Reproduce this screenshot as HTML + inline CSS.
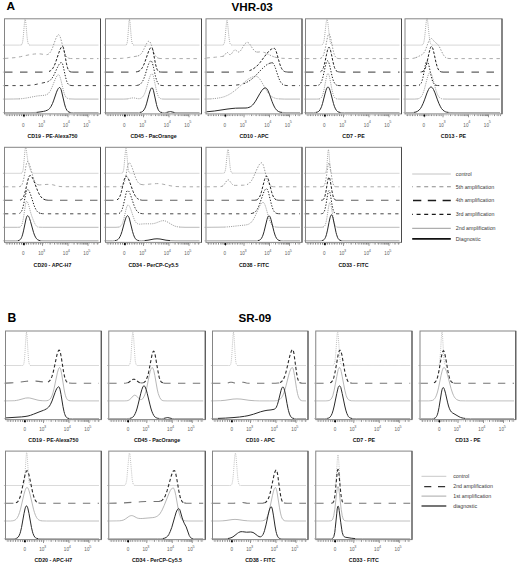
<!DOCTYPE html>
<html><head><meta charset="utf-8"><title>Figure</title>
<style>
html,body{margin:0;padding:0;background:#fff;}
body{width:520px;height:565px;overflow:hidden;font-family:"Liberation Sans",sans-serif;}
svg{display:block;}
text{font-family:"Liberation Sans",sans-serif;}
</style></head>
<body>
<svg width="520" height="565" viewBox="0 0 520 565" font-family="Liberation Sans, sans-serif">
<path d="M5.0,45.1 19.5,45.1 21.0,45.0M30.0,45.10H98.5" fill="none" stroke="#cdcdcd" stroke-width="0.8"/>
<path d="M21.0,45.0 21.5,44.8 22.0,44.2 22.5,42.6 23.0,39.5 23.5,34.4 24.5,22.2 25.0,19.2 25.5,20.3 26.0,24.6 27.0,36.2 27.5,40.4 28.0,42.9 28.5,44.2 29.0,44.8 29.5,45.0 30.0,45.1" fill="none" stroke="#9a9a9a" stroke-width="0.85" stroke-dasharray="1 1.1"/>
<path d="M5.0,58.4 11.0,58.0 16.0,57.5 20.5,56.7 30.0,54.6 34.5,54.0 37.0,53.8 39.0,53.8 41.0,54.0 45.5,54.7 46.5,54.7 47.5,54.5M69.0,58.3 70.5,58.5 73.0,58.6 98.5,58.6" fill="none" stroke="#a2a2a2" stroke-width="0.9" stroke-dasharray="3.4 3.6"/>
<path d="M47.5,54.5 48.5,54.0 49.5,53.2 50.5,52.0 51.0,51.1 52.5,47.9 55.5,39.5 56.5,37.1 57.5,35.4 58.0,34.9 58.5,34.7 59.0,34.9 59.5,35.4 60.0,36.4 60.5,37.8 61.5,41.4 63.5,49.3 64.5,52.6 65.0,53.9 66.0,55.9 67.0,57.1 68.0,57.9 69.0,58.3" fill="none" stroke="#8a8a8a" stroke-width="0.9" stroke-dasharray="1.4 1.5"/>
<path d="M5.0,72.1 43.5,72.1 47.0,71.9 49.0,71.5M71.0,72.0 73.5,72.1 98.5,72.1" fill="none" stroke="#606060" stroke-width="1.1" stroke-dasharray="7.5 7.5"/>
<path d="M49.0,71.5 50.5,70.7 51.5,69.9 52.5,68.8 53.5,67.2 54.5,65.2 55.5,62.7 59.0,52.3 60.0,49.6 61.0,47.7 61.5,47.0 62.0,46.6 62.5,46.4 63.0,46.7 63.5,47.9 64.0,49.9 66.5,63.8 67.5,67.7 68.0,69.1 68.5,70.1 69.0,70.9 69.5,71.3 70.0,71.7 71.0,72.0" fill="none" stroke="#222" stroke-width="1" stroke-dasharray="2.6 1.6"/>
<path d="M5.0,85.6 23.5,85.6 27.5,85.4 30.5,85.2 33.0,85.0 36.0,84.4 45.5,82.3 47.5,81.8M70.5,85.4 72.0,85.6 74.0,85.6 98.5,85.6" fill="none" stroke="#484848" stroke-width="1" stroke-dasharray="3.3 4.1"/>
<path d="M47.5,81.8 49.0,81.1 50.0,80.4 51.0,79.4 52.0,78.2 53.0,76.7 54.0,74.9 57.5,67.3 59.0,64.5 60.0,63.2 60.5,62.8 61.0,62.6 61.5,62.5 62.0,62.8 62.5,63.8 63.0,65.3 65.5,76.9 66.5,80.6 67.0,82.0 67.5,83.0 68.0,83.9 68.5,84.4 69.5,85.1 70.5,85.4" fill="none" stroke="#1a1a1a" stroke-width="1" stroke-dasharray="1.3 1.6"/>
<path d="M5.0,99.1 13.5,99.0 19.0,98.9M69.5,98.9 75.0,99.1 98.5,99.1" fill="none" stroke="#a8a8a8" stroke-width="0.8"/>
<path d="M19.0,98.9 22.5,98.6 26.0,98.1 37.5,95.9 44.5,95.3 46.0,94.9 47.0,94.5 48.0,93.8 49.0,92.8 50.5,90.5 52.0,87.4 55.0,79.7 56.0,77.5 57.0,75.8 57.5,75.2 58.0,74.9 58.5,74.7 59.0,74.9 59.5,75.6 60.0,76.8 61.0,80.4 63.5,91.1 64.5,94.3 65.0,95.5 66.0,97.2 67.0,98.1 68.0,98.6 69.5,98.9" fill="none" stroke="#8a8a8a" stroke-width="0.85" stroke-dasharray="1.1 1.1"/>
<path d="M5.0,112.6 30.0,112.6 36.5,112.4M70.5,112.5 73.5,112.6 98.5,112.6" fill="none" stroke="#9a9a9a" stroke-width="0.9"/>
<path d="M36.5,112.4 41.0,111.8 43.5,111.4 45.5,110.9 47.5,110.1 48.5,109.5 49.5,108.6 50.5,107.3 51.0,106.5 52.5,103.5 53.5,100.9 56.5,92.2 57.5,89.8 58.5,88.2 59.0,87.7 59.5,87.5 60.0,87.6 60.5,88.3 61.0,89.4 61.5,91.0 64.5,103.9 65.5,107.3 66.0,108.6 67.0,110.4 68.0,111.5 69.0,112.1 70.5,112.5" fill="none" stroke="#2a2a2a" stroke-width="1"/>
<rect x="4.50" y="18.80" width="96.00" height="95.10" fill="none" stroke="#858585" stroke-width="1"/>
<path d="M100.50,18.80V113.90" stroke="#4a4a4a" stroke-width="1"/>
<path d="M2.90,45.10h1.6 M2.90,58.60h1.6 M2.90,72.10h1.6 M2.90,85.60h1.6 M2.90,99.10h1.6 M2.90,112.60h1.6" stroke="#999" stroke-width="0.6"/>
<path d="M5.50,115.20H99.50" stroke="#a0a0a0" stroke-width="0.7" stroke-dasharray="1 1.2"/>
<path d="M7.00,114.50v1.6 M9.50,114.50v1.6 M12.00,114.50v1.6 M14.50,114.50v1.6 M17.00,114.50v1.6 M19.50,114.50v1.6 M21.50,114.50v1.6 M26.50,114.50v1.6 M28.50,114.50v1.6 M31.00,114.50v1.6 M33.50,114.50v1.6 M36.00,114.50v1.6 M38.50,114.50v1.6 M40.50,114.50v1.6 M50.18,114.50v1.6 M74.02,114.50v1.6 M54.67,114.50v1.6 M77.54,114.50v1.6 M57.85,114.50v1.6 M80.04,114.50v1.6 M60.32,114.50v1.6 M81.98,114.50v1.6 M62.34,114.50v1.6 M83.56,114.50v1.6 M64.05,114.50v1.6 M84.90,114.50v1.6 M65.53,114.50v1.6 M86.06,114.50v1.6 M66.83,114.50v1.6 M87.08,114.50v1.6 M94.02,114.50v1.6 M97.54,114.50v1.6 M24.00,114.50v2.8 M42.50,114.50v2.8 M68.00,114.50v2.8 M88.00,114.50v2.8" stroke="#5a5a5a" stroke-width="0.65" fill="none"/>
<rect x="22.90" y="114.60" width="1.9" height="1.8" fill="#000"/>
<text x="23.30" y="127.10" font-size="4.6" font-weight="normal" fill="#606060" text-anchor="middle" >0</text>
<text x="40.70" y="127.10" font-size="4.6" font-weight="normal" fill="#606060" text-anchor="middle" >10</text>
<text x="43.00" y="123.00" font-size="3.8" font-weight="normal" fill="#606060" text-anchor="start" >3</text>
<text x="65.40" y="127.10" font-size="4.6" font-weight="normal" fill="#606060" text-anchor="middle" >10</text>
<text x="67.70" y="123.00" font-size="3.8" font-weight="normal" fill="#606060" text-anchor="start" >4</text>
<text x="85.90" y="127.10" font-size="4.6" font-weight="normal" fill="#606060" text-anchor="middle" >10</text>
<text x="88.20" y="123.00" font-size="3.8" font-weight="normal" fill="#606060" text-anchor="start" >5</text>
<text x="52.50" y="137.80" font-size="5.3" font-weight="bold" fill="#111" text-anchor="middle" >CD19 - PE-Alexa750</text>
<path d="M106.0,45.1 125.0,45.1 126.0,45.0M134.0,45.10H199.5" fill="none" stroke="#cdcdcd" stroke-width="0.8"/>
<path d="M126.0,45.0 126.5,44.7 127.0,43.6 127.5,40.8 128.0,35.3 129.0,21.1 129.5,19.2 130.0,22.2 131.0,34.4 131.5,39.5 132.0,42.6 132.5,44.2 133.0,44.8 133.5,45.0 134.0,45.1" fill="none" stroke="#9a9a9a" stroke-width="0.85" stroke-dasharray="1 1.1"/>
<path d="M106.0,58.6 116.5,58.5 122.5,58.3 127.5,57.7 136.0,56.3 138.0,55.9M158.5,58.2 160.0,58.5 163.0,58.6 199.5,58.6" fill="none" stroke="#a2a2a2" stroke-width="0.9" stroke-dasharray="3.4 3.6"/>
<path d="M138.0,55.9 139.0,55.5 140.0,54.9 141.0,54.0 141.5,53.4 143.0,51.0 146.0,44.7 147.0,42.9 148.0,41.6 148.5,41.3 149.0,41.2 149.5,41.4 150.0,42.0 150.5,42.9 151.5,45.4 153.5,51.5 154.5,54.0 155.0,55.0 155.5,55.9 156.5,57.1 157.5,57.8 158.5,58.2" fill="none" stroke="#8a8a8a" stroke-width="0.9" stroke-dasharray="1.4 1.5"/>
<path d="M106.0,72.1 133.0,72.1 136.0,71.9 138.0,71.5M160.0,72.0 163.0,72.1 199.5,72.1" fill="none" stroke="#606060" stroke-width="1.1" stroke-dasharray="7.5 7.5"/>
<path d="M138.0,71.5 139.5,70.8 140.5,70.0 141.5,68.9 142.5,67.4 143.5,65.4 144.5,63.1 148.0,53.0 149.0,50.4 150.0,48.5 150.5,47.9 151.0,47.5 151.5,47.3 152.0,47.6 152.5,48.7 153.0,50.6 155.5,64.0 156.5,67.9 157.0,69.2 157.5,70.2 158.0,70.9 158.5,71.4 159.0,71.7 160.0,72.0" fill="none" stroke="#222" stroke-width="1" stroke-dasharray="2.6 1.6"/>
<path d="M106.0,85.6 134.0,85.6 136.5,85.5 138.5,85.1M160.5,85.3 162.0,85.5 164.0,85.6 199.5,85.6" fill="none" stroke="#484848" stroke-width="1" stroke-dasharray="3.3 4.1"/>
<path d="M138.5,85.1 140.0,84.3 141.0,83.5 142.0,82.2 143.0,80.5 144.0,78.2 145.0,75.4 147.5,67.3 148.5,64.3 149.5,62.1 150.0,61.4 150.5,61.0 151.0,60.8 151.5,61.1 152.0,62.0 152.5,63.4 153.5,67.3 155.5,76.4 156.5,79.9 157.0,81.3 157.5,82.4 158.5,84.0 159.5,84.9 160.5,85.3" fill="none" stroke="#1a1a1a" stroke-width="1" stroke-dasharray="1.3 1.6"/>
<path d="M106.0,99.1 123.5,99.1 126.0,99.0 127.5,98.9M162.0,99.0 165.0,99.1 199.5,99.1" fill="none" stroke="#a8a8a8" stroke-width="0.8"/>
<path d="M127.5,98.9 131.5,98.0 133.0,97.9 134.5,98.0 137.5,98.6 138.5,98.7 139.5,98.7 141.0,98.2 142.0,97.6 142.5,97.1 143.5,95.8 144.0,94.9 144.5,93.9 145.5,91.4 146.5,88.3 149.0,79.3 150.0,76.3 150.5,75.2 151.0,74.3 151.5,73.8 152.0,73.6 152.5,74.0 153.0,75.0 153.5,76.6 156.5,90.8 157.0,92.7 158.0,95.6 158.5,96.7 159.0,97.4 159.5,98.0 160.5,98.6 162.0,99.0" fill="none" stroke="#8a8a8a" stroke-width="0.85" stroke-dasharray="1.1 1.1"/>
<path d="M106.0,112.6 136.0,112.6 138.5,112.6 140.0,112.4M162.0,112.5 164.5,112.6 166.5,112.4M174.5,112.5 177.0,112.6 199.5,112.6" fill="none" stroke="#9a9a9a" stroke-width="0.9"/>
<path d="M140.0,112.4 141.5,112.1 142.5,111.5 143.0,111.1 144.0,109.9 145.0,108.1 145.5,106.9 146.5,103.9 149.0,94.4 150.0,91.0 150.5,89.7 151.0,88.6 151.5,88.0 152.0,87.8 152.5,88.1 153.0,89.1 153.5,90.7 156.5,104.5 157.0,106.4 158.0,109.2 158.5,110.2 159.0,111.0 159.5,111.5 160.5,112.2 162.0,112.5M166.5,112.4 169.5,111.7 170.5,111.6 174.5,112.5" fill="none" stroke="#2a2a2a" stroke-width="1"/>
<rect x="105.50" y="18.80" width="96.00" height="95.10" fill="none" stroke="#858585" stroke-width="1"/>
<path d="M201.50,18.80V113.90" stroke="#4a4a4a" stroke-width="1"/>
<path d="M103.90,45.10h1.6 M103.90,58.60h1.6 M103.90,72.10h1.6 M103.90,85.60h1.6 M103.90,99.10h1.6 M103.90,112.60h1.6" stroke="#999" stroke-width="0.6"/>
<path d="M106.50,115.20H200.50" stroke="#a0a0a0" stroke-width="0.7" stroke-dasharray="1 1.2"/>
<path d="M108.00,114.50v1.6 M110.50,114.50v1.6 M113.00,114.50v1.6 M115.50,114.50v1.6 M118.00,114.50v1.6 M120.50,114.50v1.6 M122.50,114.50v1.6 M127.50,114.50v1.6 M129.50,114.50v1.6 M132.00,114.50v1.6 M134.50,114.50v1.6 M137.00,114.50v1.6 M139.50,114.50v1.6 M141.50,114.50v1.6 M151.18,114.50v1.6 M175.02,114.50v1.6 M155.67,114.50v1.6 M178.54,114.50v1.6 M158.85,114.50v1.6 M181.04,114.50v1.6 M161.32,114.50v1.6 M182.98,114.50v1.6 M163.34,114.50v1.6 M184.56,114.50v1.6 M165.05,114.50v1.6 M185.90,114.50v1.6 M166.53,114.50v1.6 M187.06,114.50v1.6 M167.83,114.50v1.6 M188.08,114.50v1.6 M195.02,114.50v1.6 M198.54,114.50v1.6 M125.00,114.50v2.8 M143.50,114.50v2.8 M169.00,114.50v2.8 M189.00,114.50v2.8" stroke="#5a5a5a" stroke-width="0.65" fill="none"/>
<rect x="123.90" y="114.60" width="1.9" height="1.8" fill="#000"/>
<text x="124.30" y="127.10" font-size="4.6" font-weight="normal" fill="#606060" text-anchor="middle" >0</text>
<text x="141.70" y="127.10" font-size="4.6" font-weight="normal" fill="#606060" text-anchor="middle" >10</text>
<text x="144.00" y="123.00" font-size="3.8" font-weight="normal" fill="#606060" text-anchor="start" >3</text>
<text x="166.40" y="127.10" font-size="4.6" font-weight="normal" fill="#606060" text-anchor="middle" >10</text>
<text x="168.70" y="123.00" font-size="3.8" font-weight="normal" fill="#606060" text-anchor="start" >4</text>
<text x="186.90" y="127.10" font-size="4.6" font-weight="normal" fill="#606060" text-anchor="middle" >10</text>
<text x="189.20" y="123.00" font-size="3.8" font-weight="normal" fill="#606060" text-anchor="start" >5</text>
<text x="153.50" y="137.80" font-size="5.3" font-weight="bold" fill="#111" text-anchor="middle" >CD45 - PacOrange</text>
<path d="M206.5,45.1 221.5,45.1 223.0,45.0M231.5,45.0 233.5,45.1 300.0,45.1" fill="none" stroke="#cdcdcd" stroke-width="0.8"/>
<path d="M223.0,45.0 223.5,44.7 224.0,44.0 224.5,42.3 225.0,38.9 226.5,22.4 227.0,20.3 227.5,22.1 229.0,37.5 229.5,41.2 230.0,43.4 230.5,44.4 231.0,44.9 231.5,45.0" fill="none" stroke="#9a9a9a" stroke-width="0.85" stroke-dasharray="1 1.1"/>
<path d="M206.5,58.0 215.5,57.2 221.5,56.5 223.0,56.3M256.5,52.0 258.0,52.1 260.5,51.8 261.5,51.8 263.0,52.1 264.5,52.5M274.5,57.0 276.0,57.4 278.0,57.9 282.0,58.3 288.5,58.5 300.0,58.6" fill="none" stroke="#a2a2a2" stroke-width="0.9" stroke-dasharray="3.4 3.6"/>
<path d="M223.0,56.3 224.0,55.8 224.5,55.3 226.0,53.2 226.5,52.6 227.0,52.4 227.5,52.5 228.0,53.0 229.0,54.1 229.5,54.5 230.0,54.7 230.5,54.6 231.0,54.3 231.5,53.8 233.5,51.0 234.0,50.4 234.5,50.1 235.0,49.9 235.5,50.0 236.0,50.3 237.5,51.6 238.0,51.8 238.5,52.0 239.0,51.9 239.5,51.7 240.0,51.3 241.0,50.1 244.0,45.2 245.0,43.8 246.0,42.8 246.5,42.5 247.0,42.3 247.5,42.3 248.0,42.5 249.0,43.2 250.0,44.5 252.5,48.4 254.0,50.3 255.0,51.2 255.5,51.6 256.5,52.0M264.5,52.5 266.5,53.3 271.5,55.9 274.5,57.0" fill="none" stroke="#8a8a8a" stroke-width="0.9" stroke-dasharray="1.4 1.5"/>
<path d="M206.5,72.1 232.5,72.1 240.0,72.0 243.0,71.8 245.5,71.5 247.5,71.2 249.5,70.6M285.5,71.8 287.0,72.0 288.5,72.1 300.0,72.1" fill="none" stroke="#606060" stroke-width="1.1" stroke-dasharray="7.5 7.5"/>
<path d="M249.5,70.6 251.5,69.8 253.0,69.0 255.0,67.6 256.5,66.4 258.0,64.9 260.0,62.6 266.0,54.6 268.5,51.6 270.0,50.1 271.5,49.1 273.0,48.5 274.0,48.3 274.5,48.4 275.0,48.8 275.5,49.7 276.0,50.8 277.0,54.0 279.5,63.1 280.5,66.1 281.5,68.3 282.5,69.9 283.5,70.9 284.5,71.5 285.5,71.8" fill="none" stroke="#222" stroke-width="1" stroke-dasharray="2.6 1.6"/>
<path d="M206.5,85.6 225.0,85.6 233.0,85.4 236.0,85.1 239.0,84.7 241.5,84.2 244.0,83.5M270.0,63.2 271.5,62.8 272.5,62.8M284.5,85.2 286.0,85.5 288.0,85.6 300.0,85.6" fill="none" stroke="#484848" stroke-width="1" stroke-dasharray="3.3 4.1"/>
<path d="M244.0,83.5 246.0,82.7 248.0,81.6 250.0,80.4 251.5,79.3 253.5,77.6 255.5,75.7 262.0,68.9 264.5,66.6 266.0,65.3 267.5,64.3 269.0,63.5 270.0,63.2M272.5,62.8 273.0,63.1 273.5,63.7 274.5,65.6 275.5,68.3 278.5,77.5 280.0,81.0 281.0,82.7 282.0,83.8 283.0,84.6 284.5,85.2" fill="none" stroke="#1a1a1a" stroke-width="1" stroke-dasharray="1.3 1.6"/>
<path d="M206.5,99.0 210.5,98.9M279.5,98.9 284.5,99.1 300.0,99.1" fill="none" stroke="#a8a8a8" stroke-width="0.8"/>
<path d="M210.5,98.9 216.0,98.4 220.5,97.7 222.5,97.2 224.5,96.6 228.0,95.1 231.0,93.4 234.5,90.9 237.5,88.4 245.0,81.7 247.0,80.1 248.5,79.0 250.5,77.8 252.5,76.9 254.5,76.4 256.0,76.3 257.0,76.5 258.0,77.1 259.0,78.1 260.0,79.3 261.5,81.7 266.5,90.5 268.5,93.4 270.0,95.1 271.0,96.0 272.0,96.8 274.0,97.8 275.0,98.2 276.5,98.6 279.5,98.9" fill="none" stroke="#8a8a8a" stroke-width="0.85" stroke-dasharray="1.1 1.1"/>
<path d="M282.0,112.4 286.0,112.6 300.0,112.6" fill="none" stroke="#9a9a9a" stroke-width="0.9"/>
<path d="M206.5,111.8 214.5,111.0 227.0,109.1 232.0,108.5 235.5,108.2 239.0,108.1 246.0,108.0 247.5,107.8 249.0,107.4 250.5,106.7 251.5,106.0 252.5,105.1 253.5,104.0 255.5,101.2 260.0,93.3 262.0,90.2 263.0,89.1 264.0,88.3 265.0,88.0 265.5,87.9 266.0,88.1 266.5,88.4 267.0,89.0 268.0,90.7 269.5,94.3 272.0,101.4 273.0,103.9 274.5,107.1 275.5,108.7 277.0,110.5 278.5,111.5 280.0,112.1 282.0,112.4" fill="none" stroke="#2a2a2a" stroke-width="1"/>
<rect x="206.00" y="18.80" width="96.00" height="95.10" fill="none" stroke="#858585" stroke-width="1"/>
<path d="M302.00,18.80V113.90" stroke="#4a4a4a" stroke-width="1"/>
<path d="M204.40,45.10h1.6 M204.40,58.60h1.6 M204.40,72.10h1.6 M204.40,85.60h1.6 M204.40,99.10h1.6 M204.40,112.60h1.6" stroke="#999" stroke-width="0.6"/>
<path d="M207.00,115.20H301.00" stroke="#a0a0a0" stroke-width="0.7" stroke-dasharray="1 1.2"/>
<path d="M208.50,114.50v1.6 M211.00,114.50v1.6 M213.50,114.50v1.6 M216.00,114.50v1.6 M218.50,114.50v1.6 M221.00,114.50v1.6 M223.00,114.50v1.6 M228.00,114.50v1.6 M230.00,114.50v1.6 M232.50,114.50v1.6 M235.00,114.50v1.6 M237.50,114.50v1.6 M240.00,114.50v1.6 M242.00,114.50v1.6 M251.68,114.50v1.6 M275.52,114.50v1.6 M256.17,114.50v1.6 M279.04,114.50v1.6 M259.35,114.50v1.6 M281.54,114.50v1.6 M261.82,114.50v1.6 M283.48,114.50v1.6 M263.84,114.50v1.6 M285.06,114.50v1.6 M265.55,114.50v1.6 M286.40,114.50v1.6 M267.03,114.50v1.6 M287.56,114.50v1.6 M268.33,114.50v1.6 M288.58,114.50v1.6 M295.52,114.50v1.6 M299.04,114.50v1.6 M225.50,114.50v2.8 M244.00,114.50v2.8 M269.50,114.50v2.8 M289.50,114.50v2.8" stroke="#5a5a5a" stroke-width="0.65" fill="none"/>
<rect x="224.40" y="114.60" width="1.9" height="1.8" fill="#000"/>
<text x="224.80" y="127.10" font-size="4.6" font-weight="normal" fill="#606060" text-anchor="middle" >0</text>
<text x="242.20" y="127.10" font-size="4.6" font-weight="normal" fill="#606060" text-anchor="middle" >10</text>
<text x="244.50" y="123.00" font-size="3.8" font-weight="normal" fill="#606060" text-anchor="start" >3</text>
<text x="266.90" y="127.10" font-size="4.6" font-weight="normal" fill="#606060" text-anchor="middle" >10</text>
<text x="269.20" y="123.00" font-size="3.8" font-weight="normal" fill="#606060" text-anchor="start" >4</text>
<text x="287.40" y="127.10" font-size="4.6" font-weight="normal" fill="#606060" text-anchor="middle" >10</text>
<text x="289.70" y="123.00" font-size="3.8" font-weight="normal" fill="#606060" text-anchor="start" >5</text>
<text x="254.00" y="137.80" font-size="5.3" font-weight="bold" fill="#111" text-anchor="middle" >CD10 - APC</text>
<path d="M306.0,45.1 320.5,45.1 321.5,45.0 322.0,44.9M332.5,45.0 334.5,45.1 399.5,45.1" fill="none" stroke="#cdcdcd" stroke-width="0.8"/>
<path d="M322.0,44.9 322.5,44.6 323.0,44.0 323.5,42.7 324.0,40.7 324.5,37.5 326.0,23.9 326.5,20.5 327.0,19.3 327.5,20.5 328.0,23.9 329.5,37.5 330.0,40.7 330.5,42.7 331.0,44.0 331.5,44.6 332.0,44.9 332.5,45.0" fill="none" stroke="#9a9a9a" stroke-width="0.85" stroke-dasharray="1 1.1"/>
<path d="M306.0,58.6 318.5,58.6 320.0,58.5 321.0,58.2M337.5,58.4 339.0,58.6 341.0,58.6 399.5,58.6" fill="none" stroke="#a2a2a2" stroke-width="0.9" stroke-dasharray="3.4 3.6"/>
<path d="M321.0,58.2 322.0,57.5 322.5,56.9 323.0,56.1 323.5,55.0 324.0,53.6 325.0,49.7 327.5,37.1 328.0,35.3 328.5,34.2 329.0,33.8 329.5,34.2 330.0,35.3 330.5,37.1 333.0,49.7 334.0,53.6 334.5,55.0 335.0,56.1 335.5,56.9 336.0,57.5 336.5,57.9 337.5,58.4" fill="none" stroke="#8a8a8a" stroke-width="0.9" stroke-dasharray="1.4 1.5"/>
<path d="M306.0,72.1 318.0,72.1 319.5,71.9 320.5,71.7M338.0,71.8 339.5,72.0 341.5,72.1 399.5,72.1" fill="none" stroke="#606060" stroke-width="1.1" stroke-dasharray="7.5 7.5"/>
<path d="M320.5,71.7 321.5,71.0 322.0,70.5 322.5,69.7 323.0,68.7 323.5,67.5 324.0,65.9 325.0,61.9 326.5,54.6 327.5,50.2 328.0,48.6 328.5,47.6 329.0,47.3 329.5,47.6 330.0,48.6 330.5,50.2 331.5,54.6 333.0,61.9 334.0,65.9 334.5,67.5 335.0,68.7 335.5,69.7 336.0,70.5 337.0,71.4 338.0,71.8" fill="none" stroke="#222" stroke-width="1" stroke-dasharray="2.6 1.6"/>
<path d="M306.0,85.6 316.0,85.6 317.5,85.4 318.5,85.2M337.5,85.4 339.0,85.6 341.5,85.6 399.5,85.6" fill="none" stroke="#484848" stroke-width="1" stroke-dasharray="3.3 4.1"/>
<path d="M318.5,85.2 319.5,84.6 320.5,83.5 321.5,81.6 322.0,80.2 323.0,76.8 325.0,67.8 326.0,63.7 326.5,62.2 327.0,61.2 327.5,60.8 328.0,61.0 328.5,61.8 329.0,63.1 330.0,66.9 332.0,76.0 333.0,79.6 333.5,81.1 334.0,82.2 335.0,83.9 336.0,84.8 336.5,85.1 337.5,85.4" fill="none" stroke="#1a1a1a" stroke-width="1" stroke-dasharray="1.3 1.6"/>
<path d="M306.0,99.1 316.5,99.1 319.0,99.0M337.5,99.0 341.0,99.1 399.5,99.1" fill="none" stroke="#a8a8a8" stroke-width="0.8"/>
<path d="M319.0,99.0 320.0,98.7 321.0,98.0 321.5,97.4 322.0,96.5 322.5,95.4 323.0,93.9 324.0,89.8 326.5,76.8 327.0,75.0 327.5,73.8 328.0,73.4 328.5,73.8 329.0,75.0 329.5,76.8 332.0,89.8 333.0,93.9 333.5,95.4 334.0,96.5 334.5,97.4 335.0,98.0 336.0,98.7 337.5,99.0" fill="none" stroke="#8a8a8a" stroke-width="0.85" stroke-dasharray="1.1 1.1"/>
<path d="M306.0,112.6 313.5,112.6 316.0,112.4M340.5,112.5 344.5,112.6 399.5,112.6" fill="none" stroke="#9a9a9a" stroke-width="0.9"/>
<path d="M316.0,112.4 317.5,112.0 318.5,111.5 319.0,111.1 320.0,109.8 321.0,107.9 321.5,106.7 322.5,103.6 325.0,93.9 326.0,90.3 326.5,88.9 327.0,87.9 327.5,87.2 328.0,87.0 328.5,87.2 329.0,87.9 329.5,88.9 330.0,90.3 331.0,93.9 333.5,103.6 334.5,106.7 335.5,108.9 336.5,110.5 337.5,111.5 338.0,111.8 339.0,112.2 340.5,112.5" fill="none" stroke="#2a2a2a" stroke-width="1"/>
<rect x="305.50" y="18.80" width="96.00" height="95.10" fill="none" stroke="#858585" stroke-width="1"/>
<path d="M401.50,18.80V113.90" stroke="#4a4a4a" stroke-width="1"/>
<path d="M303.90,45.10h1.6 M303.90,58.60h1.6 M303.90,72.10h1.6 M303.90,85.60h1.6 M303.90,99.10h1.6 M303.90,112.60h1.6" stroke="#999" stroke-width="0.6"/>
<path d="M306.50,115.20H400.50" stroke="#a0a0a0" stroke-width="0.7" stroke-dasharray="1 1.2"/>
<path d="M308.00,114.50v1.6 M310.50,114.50v1.6 M313.00,114.50v1.6 M315.50,114.50v1.6 M318.00,114.50v1.6 M320.50,114.50v1.6 M322.50,114.50v1.6 M327.50,114.50v1.6 M329.50,114.50v1.6 M332.00,114.50v1.6 M334.50,114.50v1.6 M337.00,114.50v1.6 M339.50,114.50v1.6 M341.50,114.50v1.6 M351.18,114.50v1.6 M375.02,114.50v1.6 M355.67,114.50v1.6 M378.54,114.50v1.6 M358.85,114.50v1.6 M381.04,114.50v1.6 M361.32,114.50v1.6 M382.98,114.50v1.6 M363.34,114.50v1.6 M384.56,114.50v1.6 M365.05,114.50v1.6 M385.90,114.50v1.6 M366.53,114.50v1.6 M387.06,114.50v1.6 M367.83,114.50v1.6 M388.08,114.50v1.6 M395.02,114.50v1.6 M398.54,114.50v1.6 M325.00,114.50v2.8 M343.50,114.50v2.8 M369.00,114.50v2.8 M389.00,114.50v2.8" stroke="#5a5a5a" stroke-width="0.65" fill="none"/>
<rect x="323.90" y="114.60" width="1.9" height="1.8" fill="#000"/>
<text x="324.30" y="127.10" font-size="4.6" font-weight="normal" fill="#606060" text-anchor="middle" >0</text>
<text x="341.70" y="127.10" font-size="4.6" font-weight="normal" fill="#606060" text-anchor="middle" >10</text>
<text x="344.00" y="123.00" font-size="3.8" font-weight="normal" fill="#606060" text-anchor="start" >3</text>
<text x="366.40" y="127.10" font-size="4.6" font-weight="normal" fill="#606060" text-anchor="middle" >10</text>
<text x="368.70" y="123.00" font-size="3.8" font-weight="normal" fill="#606060" text-anchor="start" >4</text>
<text x="386.90" y="127.10" font-size="4.6" font-weight="normal" fill="#606060" text-anchor="middle" >10</text>
<text x="389.20" y="123.00" font-size="3.8" font-weight="normal" fill="#606060" text-anchor="start" >5</text>
<text x="353.50" y="137.80" font-size="5.3" font-weight="bold" fill="#111" text-anchor="middle" >CD7 - PE</text>
<path d="M405.5,45.1 420.5,45.1 422.0,45.0M432.5,45.1 500.0,45.1" fill="none" stroke="#cdcdcd" stroke-width="0.8"/>
<path d="M422.0,45.0 422.5,44.8 423.0,44.3 423.5,43.4 424.0,41.5 424.5,38.5 425.0,34.2 426.0,23.9 426.5,20.0 427.0,18.6 427.5,20.0 428.0,23.9 429.0,34.2 429.5,38.5 430.0,41.5 430.5,43.4 431.0,44.3 431.5,44.8 432.5,45.1" fill="none" stroke="#9a9a9a" stroke-width="0.85" stroke-dasharray="1 1.1"/>
<path d="M405.5,58.6 412.0,58.5 414.0,58.2 416.0,57.6M447.5,58.3 449.0,58.5 452.0,58.6 500.0,58.6" fill="none" stroke="#a2a2a2" stroke-width="0.9" stroke-dasharray="3.4 3.6"/>
<path d="M416.0,57.6 418.0,56.7 421.5,54.9 422.5,54.3 423.5,53.3 424.5,51.9 425.5,49.9 428.0,43.1 429.0,40.6 429.5,39.7 430.0,39.0 430.5,38.6 431.0,38.4 431.5,38.5 432.0,38.8 435.0,42.2 437.0,43.8 438.0,44.7 438.5,45.4 439.5,47.0 442.5,53.3 444.0,55.8 444.5,56.5 445.5,57.4 446.5,58.0 447.5,58.3" fill="none" stroke="#8a8a8a" stroke-width="0.9" stroke-dasharray="1.4 1.5"/>
<path d="M405.5,72.1 419.0,72.1 421.0,72.0 422.0,71.8M441.5,71.9 443.0,72.1 445.5,72.1 500.0,72.1" fill="none" stroke="#606060" stroke-width="1.1" stroke-dasharray="7.5 7.5"/>
<path d="M422.0,71.8 423.0,71.3 424.0,70.5 425.0,68.8 425.5,67.7 426.0,66.2 427.0,62.5 429.0,53.2 430.0,49.1 430.5,47.6 431.0,46.7 431.5,46.4 432.0,46.7 432.5,47.6 433.0,49.1 434.0,53.2 436.0,62.5 437.0,66.2 437.5,67.7 438.0,68.8 439.0,70.5 440.0,71.3 440.5,71.6 441.5,71.9" fill="none" stroke="#222" stroke-width="1" stroke-dasharray="2.6 1.6"/>
<path d="M405.5,85.6 416.5,85.6 418.0,85.5 419.0,85.3M436.0,85.3 437.5,85.5 439.5,85.6 500.0,85.6" fill="none" stroke="#484848" stroke-width="1" stroke-dasharray="3.3 4.1"/>
<path d="M419.0,85.3 420.0,84.7 420.5,84.2 421.0,83.5 421.5,82.5 422.0,81.1 423.0,77.3 425.5,64.3 426.0,62.4 426.5,61.2 427.0,60.8 427.5,61.1 428.0,62.1 428.5,63.7 429.5,68.1 431.0,75.4 432.0,79.4 432.5,81.0 433.0,82.2 433.5,83.2 434.0,84.0 435.0,84.9 436.0,85.3" fill="none" stroke="#1a1a1a" stroke-width="1" stroke-dasharray="1.3 1.6"/>
<path d="M405.5,99.1 414.5,99.1 417.5,98.9M443.0,99.0 447.5,99.1 500.0,99.1" fill="none" stroke="#a8a8a8" stroke-width="0.8"/>
<path d="M417.5,98.9 419.0,98.5 420.0,97.9 420.5,97.5 421.5,96.3 422.5,94.5 423.5,92.0 424.5,88.8 427.0,79.1 428.0,75.7 428.5,74.4 429.0,73.4 429.5,72.8 430.0,72.6 430.5,72.8 431.0,73.4 431.5,74.4 432.0,75.7 433.0,79.1 435.5,88.8 436.5,92.0 437.5,94.5 438.5,96.3 439.0,97.0 440.0,97.9 440.5,98.3 441.5,98.7 443.0,99.0" fill="none" stroke="#8a8a8a" stroke-width="0.85" stroke-dasharray="1.1 1.1"/>
<path d="M405.5,112.6 411.0,112.6 414.0,112.4M448.5,112.4 454.0,112.6 500.0,112.6" fill="none" stroke="#9a9a9a" stroke-width="0.9"/>
<path d="M414.0,112.4 416.0,112.0 417.5,111.3 419.0,110.2 420.5,108.5 421.5,106.8 423.0,103.7 424.5,99.9 427.0,92.9 428.5,89.5 429.5,87.9 430.0,87.4 430.5,87.1 431.0,87.0 431.5,87.1 432.0,87.4 432.5,87.9 433.5,89.5 435.0,92.9 437.5,99.9 439.0,103.7 440.5,106.8 441.5,108.5 443.0,110.2 444.5,111.3 445.5,111.8 446.5,112.1 448.5,112.4" fill="none" stroke="#2a2a2a" stroke-width="1"/>
<rect x="405.00" y="18.80" width="97.00" height="95.10" fill="none" stroke="#858585" stroke-width="1"/>
<path d="M502.00,18.80V113.90" stroke="#4a4a4a" stroke-width="1"/>
<path d="M403.40,45.10h1.6 M403.40,58.60h1.6 M403.40,72.10h1.6 M403.40,85.60h1.6 M403.40,99.10h1.6 M403.40,112.60h1.6" stroke="#999" stroke-width="0.6"/>
<path d="M406.00,115.20H501.00" stroke="#a0a0a0" stroke-width="0.7" stroke-dasharray="1 1.2"/>
<path d="M407.50,114.50v1.6 M410.00,114.50v1.6 M412.50,114.50v1.6 M415.00,114.50v1.6 M417.50,114.50v1.6 M420.00,114.50v1.6 M422.00,114.50v1.6 M427.00,114.50v1.6 M429.00,114.50v1.6 M431.50,114.50v1.6 M434.00,114.50v1.6 M436.50,114.50v1.6 M439.00,114.50v1.6 M441.00,114.50v1.6 M450.68,114.50v1.6 M474.52,114.50v1.6 M455.17,114.50v1.6 M478.04,114.50v1.6 M458.35,114.50v1.6 M480.54,114.50v1.6 M460.82,114.50v1.6 M482.48,114.50v1.6 M462.84,114.50v1.6 M484.06,114.50v1.6 M464.55,114.50v1.6 M485.40,114.50v1.6 M466.03,114.50v1.6 M486.56,114.50v1.6 M467.33,114.50v1.6 M487.58,114.50v1.6 M494.52,114.50v1.6 M498.04,114.50v1.6 M500.54,114.50v1.6 M424.50,114.50v2.8 M443.00,114.50v2.8 M468.50,114.50v2.8 M488.50,114.50v2.8" stroke="#5a5a5a" stroke-width="0.65" fill="none"/>
<rect x="423.40" y="114.60" width="1.9" height="1.8" fill="#000"/>
<text x="423.80" y="127.10" font-size="4.6" font-weight="normal" fill="#606060" text-anchor="middle" >0</text>
<text x="441.20" y="127.10" font-size="4.6" font-weight="normal" fill="#606060" text-anchor="middle" >10</text>
<text x="443.50" y="123.00" font-size="3.8" font-weight="normal" fill="#606060" text-anchor="start" >3</text>
<text x="465.90" y="127.10" font-size="4.6" font-weight="normal" fill="#606060" text-anchor="middle" >10</text>
<text x="468.20" y="123.00" font-size="3.8" font-weight="normal" fill="#606060" text-anchor="start" >4</text>
<text x="486.40" y="127.10" font-size="4.6" font-weight="normal" fill="#606060" text-anchor="middle" >10</text>
<text x="488.70" y="123.00" font-size="3.8" font-weight="normal" fill="#606060" text-anchor="start" >5</text>
<text x="453.50" y="137.80" font-size="5.3" font-weight="bold" fill="#111" text-anchor="middle" >CD13 - PE</text>
<path d="M5.0,173.3 20.0,173.3 21.5,173.2M33.0,173.2 35.0,173.3 98.5,173.3" fill="none" stroke="#cdcdcd" stroke-width="0.8"/>
<path d="M21.5,173.2 22.0,172.9 22.5,172.2 23.0,170.4 23.5,167.0 25.0,149.9 25.5,147.4 26.0,148.1 26.5,151.1 27.5,158.7 28.0,161.6 29.0,165.6 30.0,168.9 31.0,171.5 31.5,172.4 32.0,172.8 32.5,173.1 33.0,173.2" fill="none" stroke="#9a9a9a" stroke-width="0.85" stroke-dasharray="1 1.1"/>
<path d="M5.0,186.8 17.5,186.8 19.0,186.7 20.0,186.5M38.0,184.7 39.5,184.9 47.0,184.4 50.0,184.4 52.5,184.7 58.5,186.3 61.0,186.6 63.5,186.7 98.5,186.8" fill="none" stroke="#a2a2a2" stroke-width="0.9" stroke-dasharray="3.4 3.6"/>
<path d="M20.0,186.5 21.0,185.9 21.5,185.4 22.0,184.6 22.5,183.4 23.0,181.8 24.0,177.3 26.0,165.7 26.5,163.4 27.0,162.0 27.5,161.5 28.0,161.7 28.5,162.3 29.0,163.2 29.5,164.4 30.5,167.7 33.0,176.8 34.0,179.7 34.5,180.9 35.0,181.9 36.0,183.4 37.0,184.3 38.0,184.7" fill="none" stroke="#8a8a8a" stroke-width="0.9" stroke-dasharray="1.4 1.5"/>
<path d="M5.0,200.3 17.5,200.3 19.5,200.1 20.5,199.9M45.0,199.7 46.0,199.9 47.5,200.1 51.0,200.3 98.5,200.3" fill="none" stroke="#606060" stroke-width="1.1" stroke-dasharray="7.5 7.5"/>
<path d="M20.5,199.9 21.5,199.4 22.5,198.4 23.5,196.7 24.0,195.6 24.5,194.1 25.5,190.5 27.5,181.7 28.5,177.9 29.0,176.6 29.5,175.8 30.0,175.5 30.5,175.6 31.0,175.9 31.5,176.4 32.0,177.1 33.0,178.9 34.0,181.3 37.5,190.5 39.0,193.8 40.0,195.6 41.0,196.9 42.5,198.4 43.5,199.1 45.0,199.7" fill="none" stroke="#222" stroke-width="1" stroke-dasharray="2.6 1.6"/>
<path d="M5.0,213.8 17.0,213.8 18.5,213.7 19.5,213.4M40.5,213.4 42.5,213.7 45.5,213.8 98.5,213.8" fill="none" stroke="#484848" stroke-width="1" stroke-dasharray="3.3 4.1"/>
<path d="M19.5,213.4 20.5,212.7 21.0,212.2 21.5,211.4 22.0,210.3 22.5,208.9 23.5,205.0 26.0,192.7 26.5,191.0 27.0,189.9 27.5,189.5 28.0,189.6 28.5,190.1 29.0,190.8 29.5,191.8 30.5,194.3 34.0,205.2 35.0,207.7 36.0,209.7 37.0,211.2 38.0,212.2 39.0,212.9 40.5,213.4" fill="none" stroke="#1a1a1a" stroke-width="1" stroke-dasharray="1.3 1.6"/>
<path d="M5.0,227.3 17.5,227.3 19.5,227.2M39.0,227.2 42.5,227.3 98.5,227.3" fill="none" stroke="#a8a8a8" stroke-width="0.8"/>
<path d="M19.5,227.2 20.5,226.7 21.0,226.3 21.5,225.5 22.0,224.4 22.5,222.7 23.5,217.7 25.5,204.4 26.0,202.2 26.5,201.3 27.0,201.4 27.5,202.1 28.0,203.2 29.0,206.3 30.5,212.0 31.5,215.3 33.0,219.4 34.5,223.0 35.5,224.9 36.5,226.2 37.5,226.9 39.0,227.2" fill="none" stroke="#8a8a8a" stroke-width="0.85" stroke-dasharray="1.1 1.1"/>
<path d="M5.0,240.8 15.5,240.8 18.0,240.7M40.5,240.7 45.0,240.8 98.5,240.8" fill="none" stroke="#9a9a9a" stroke-width="0.9"/>
<path d="M18.0,240.7 19.0,240.4 19.5,240.1 20.5,239.3 21.0,238.6 21.5,237.6 22.0,236.4 22.5,234.9 23.5,230.9 26.0,219.0 26.5,217.3 27.0,216.2 27.5,215.7 28.0,215.8 28.5,216.3 29.0,217.2 29.5,218.4 30.5,221.5 33.5,232.3 34.5,235.1 35.5,237.2 36.5,238.7 37.5,239.6 38.0,239.9 39.0,240.4 40.5,240.7" fill="none" stroke="#2a2a2a" stroke-width="1"/>
<rect x="4.50" y="147.30" width="96.00" height="95.10" fill="none" stroke="#858585" stroke-width="1"/>
<path d="M100.50,147.30V242.40" stroke="#4a4a4a" stroke-width="1"/>
<path d="M2.90,173.30h1.6 M2.90,186.80h1.6 M2.90,200.30h1.6 M2.90,213.80h1.6 M2.90,227.30h1.6 M2.90,240.80h1.6" stroke="#999" stroke-width="0.6"/>
<path d="M5.50,243.70H99.50" stroke="#a0a0a0" stroke-width="0.7" stroke-dasharray="1 1.2"/>
<path d="M7.00,243.00v1.6 M9.50,243.00v1.6 M12.00,243.00v1.6 M14.50,243.00v1.6 M17.00,243.00v1.6 M19.50,243.00v1.6 M21.50,243.00v1.6 M26.50,243.00v1.6 M28.50,243.00v1.6 M31.00,243.00v1.6 M33.50,243.00v1.6 M36.00,243.00v1.6 M38.50,243.00v1.6 M40.50,243.00v1.6 M50.18,243.00v1.6 M74.02,243.00v1.6 M54.67,243.00v1.6 M77.54,243.00v1.6 M57.85,243.00v1.6 M80.04,243.00v1.6 M60.32,243.00v1.6 M81.98,243.00v1.6 M62.34,243.00v1.6 M83.56,243.00v1.6 M64.05,243.00v1.6 M84.90,243.00v1.6 M65.53,243.00v1.6 M86.06,243.00v1.6 M66.83,243.00v1.6 M87.08,243.00v1.6 M94.02,243.00v1.6 M97.54,243.00v1.6 M24.00,243.00v2.8 M42.50,243.00v2.8 M68.00,243.00v2.8 M88.00,243.00v2.8" stroke="#5a5a5a" stroke-width="0.65" fill="none"/>
<rect x="22.90" y="243.10" width="1.9" height="1.8" fill="#000"/>
<text x="23.30" y="255.40" font-size="4.6" font-weight="normal" fill="#606060" text-anchor="middle" >0</text>
<text x="40.70" y="255.40" font-size="4.6" font-weight="normal" fill="#606060" text-anchor="middle" >10</text>
<text x="43.00" y="251.50" font-size="3.8" font-weight="normal" fill="#606060" text-anchor="start" >3</text>
<text x="65.40" y="255.40" font-size="4.6" font-weight="normal" fill="#606060" text-anchor="middle" >10</text>
<text x="67.70" y="251.50" font-size="3.8" font-weight="normal" fill="#606060" text-anchor="start" >4</text>
<text x="85.90" y="255.40" font-size="4.6" font-weight="normal" fill="#606060" text-anchor="middle" >10</text>
<text x="88.20" y="251.50" font-size="3.8" font-weight="normal" fill="#606060" text-anchor="start" >5</text>
<text x="52.50" y="266.50" font-size="5.3" font-weight="bold" fill="#111" text-anchor="middle" >CD20 - APC-H7</text>
<path d="M106.0,173.3 120.5,173.3 122.0,173.2M130.5,173.30H199.5" fill="none" stroke="#cdcdcd" stroke-width="0.8"/>
<path d="M122.0,173.2 122.5,172.9 123.0,172.2 123.5,170.4 124.0,167.1 125.5,150.4 126.0,148.3 126.5,150.4 128.0,167.1 128.5,170.4 129.0,172.2 129.5,172.9 130.0,173.2 130.5,173.3" fill="none" stroke="#9a9a9a" stroke-width="0.85" stroke-dasharray="1 1.1"/>
<path d="M106.0,186.8 119.0,186.7 120.5,186.6 121.5,186.4M141.0,184.4 142.0,184.6 143.5,184.7 153.0,183.8 156.5,183.6 159.0,183.6 160.5,183.8 162.5,184.1 171.0,185.9 175.5,186.5 182.5,186.8 199.5,186.8" fill="none" stroke="#a2a2a2" stroke-width="0.9" stroke-dasharray="3.4 3.6"/>
<path d="M121.5,186.4 122.5,185.8 123.0,185.3 123.5,184.5 124.0,183.4 124.5,181.9 125.5,177.7 127.5,166.8 128.0,164.7 128.5,163.3 129.0,162.8 129.5,162.9 130.0,163.3 130.5,164.0 131.5,166.0 132.5,168.7 135.0,176.2 136.0,178.7 137.0,180.8 138.0,182.3 139.0,183.4 140.0,184.1 141.0,184.4" fill="none" stroke="#8a8a8a" stroke-width="0.9" stroke-dasharray="1.4 1.5"/>
<path d="M106.0,200.3 114.5,200.3 116.0,200.1 117.0,199.8M140.0,199.8 142.0,200.2 145.5,200.3 199.5,200.3" fill="none" stroke="#606060" stroke-width="1.1" stroke-dasharray="7.5 7.5"/>
<path d="M117.0,199.8 118.0,199.2 118.5,198.8 119.5,197.2 120.0,196.1 120.5,194.8 121.5,191.3 123.5,182.5 124.5,178.7 125.0,177.3 125.5,176.5 126.0,176.2 126.5,176.3 127.0,176.7 127.5,177.3 128.5,179.0 129.5,181.4 133.0,191.3 134.0,193.6 135.0,195.5 136.0,197.0 136.5,197.6 137.5,198.6 138.5,199.2 140.0,199.8" fill="none" stroke="#222" stroke-width="1" stroke-dasharray="2.6 1.6"/>
<path d="M106.0,213.8 116.5,213.8 118.0,213.7 119.0,213.4M140.5,213.4 142.5,213.7 145.5,213.8 199.5,213.8" fill="none" stroke="#484848" stroke-width="1" stroke-dasharray="3.3 4.1"/>
<path d="M119.0,213.4 120.0,212.9 120.5,212.4 121.0,211.7 121.5,210.9 122.0,209.7 122.5,208.3 123.5,204.6 126.0,193.6 126.5,192.0 127.0,191.0 127.5,190.5 128.0,190.6 128.5,191.0 129.0,191.6 130.0,193.6 131.0,196.3 134.0,205.3 135.0,207.8 136.0,209.7 137.0,211.2 138.0,212.2 139.0,212.9 140.5,213.4" fill="none" stroke="#1a1a1a" stroke-width="1" stroke-dasharray="1.3 1.6"/>
<path d="M106.0,227.3 116.0,227.3 118.5,227.1M180.0,227.1 185.0,227.3 199.5,227.3" fill="none" stroke="#a8a8a8" stroke-width="0.8"/>
<path d="M118.5,227.1 119.5,226.9 120.0,226.6 121.0,225.8 122.0,224.3 122.5,223.1 123.0,221.7 124.0,218.1 125.5,211.6 126.5,207.6 127.0,206.2 127.5,205.3 128.0,204.9 128.5,205.1 129.0,205.5 129.5,206.3 130.0,207.3 131.0,209.9 133.5,217.5 134.5,219.9 135.0,220.9 136.0,222.5 136.5,223.0 137.5,223.7 138.5,224.1 139.5,224.2 144.5,223.8 150.5,223.8 152.5,223.7 154.0,223.5 155.5,223.1 160.0,221.4 161.5,220.9 163.0,220.7 164.0,220.7 165.5,221.1 167.0,221.7 172.0,224.7 174.5,226.0 177.0,226.7 180.0,227.1" fill="none" stroke="#8a8a8a" stroke-width="0.85" stroke-dasharray="1.1 1.1"/>
<path d="M106.0,240.8 112.5,240.8 115.0,240.6M139.0,240.7 141.5,240.7 144.5,240.6M170.0,240.6 176.0,240.8 199.5,240.8" fill="none" stroke="#9a9a9a" stroke-width="0.9"/>
<path d="M115.0,240.6 116.5,240.3 117.5,239.8 118.0,239.4 119.0,238.3 120.0,236.7 121.0,234.4 122.0,231.4 124.5,222.2 125.5,218.9 126.0,217.6 126.5,216.6 127.0,216.0 127.5,215.7 128.0,215.9 128.5,216.5 129.0,217.6 129.5,219.1 132.5,231.4 133.5,234.7 134.5,237.2 135.5,238.8 136.5,239.8 137.5,240.3 139.0,240.7M144.5,240.6 148.0,240.2 154.0,239.0 157.0,238.8 160.0,239.0 166.0,240.2 170.0,240.6" fill="none" stroke="#2a2a2a" stroke-width="1"/>
<rect x="105.50" y="147.30" width="96.00" height="95.10" fill="none" stroke="#858585" stroke-width="1"/>
<path d="M201.50,147.30V242.40" stroke="#4a4a4a" stroke-width="1"/>
<path d="M103.90,173.30h1.6 M103.90,186.80h1.6 M103.90,200.30h1.6 M103.90,213.80h1.6 M103.90,227.30h1.6 M103.90,240.80h1.6" stroke="#999" stroke-width="0.6"/>
<path d="M106.50,243.70H200.50" stroke="#a0a0a0" stroke-width="0.7" stroke-dasharray="1 1.2"/>
<path d="M108.00,243.00v1.6 M110.50,243.00v1.6 M113.00,243.00v1.6 M115.50,243.00v1.6 M118.00,243.00v1.6 M120.50,243.00v1.6 M122.50,243.00v1.6 M127.50,243.00v1.6 M129.50,243.00v1.6 M132.00,243.00v1.6 M134.50,243.00v1.6 M137.00,243.00v1.6 M139.50,243.00v1.6 M141.50,243.00v1.6 M151.18,243.00v1.6 M175.02,243.00v1.6 M155.67,243.00v1.6 M178.54,243.00v1.6 M158.85,243.00v1.6 M181.04,243.00v1.6 M161.32,243.00v1.6 M182.98,243.00v1.6 M163.34,243.00v1.6 M184.56,243.00v1.6 M165.05,243.00v1.6 M185.90,243.00v1.6 M166.53,243.00v1.6 M187.06,243.00v1.6 M167.83,243.00v1.6 M188.08,243.00v1.6 M195.02,243.00v1.6 M198.54,243.00v1.6 M125.00,243.00v2.8 M143.50,243.00v2.8 M169.00,243.00v2.8 M189.00,243.00v2.8" stroke="#5a5a5a" stroke-width="0.65" fill="none"/>
<rect x="123.90" y="243.10" width="1.9" height="1.8" fill="#000"/>
<text x="124.30" y="255.40" font-size="4.6" font-weight="normal" fill="#606060" text-anchor="middle" >0</text>
<text x="141.70" y="255.40" font-size="4.6" font-weight="normal" fill="#606060" text-anchor="middle" >10</text>
<text x="144.00" y="251.50" font-size="3.8" font-weight="normal" fill="#606060" text-anchor="start" >3</text>
<text x="166.40" y="255.40" font-size="4.6" font-weight="normal" fill="#606060" text-anchor="middle" >10</text>
<text x="168.70" y="251.50" font-size="3.8" font-weight="normal" fill="#606060" text-anchor="start" >4</text>
<text x="186.90" y="255.40" font-size="4.6" font-weight="normal" fill="#606060" text-anchor="middle" >10</text>
<text x="189.20" y="251.50" font-size="3.8" font-weight="normal" fill="#606060" text-anchor="start" >5</text>
<text x="153.50" y="266.50" font-size="5.3" font-weight="bold" fill="#111" text-anchor="middle" >CD34 - PerCP-Cy5.5</text>
<path d="M206.5,173.3 222.5,173.3 223.5,173.2 224.0,173.1M232.5,173.2 300.0,173.3" fill="none" stroke="#cdcdcd" stroke-width="0.8"/>
<path d="M224.0,173.1 224.5,172.7 225.0,171.6 225.5,169.5 226.0,166.0 227.5,151.0 228.0,149.3 228.5,151.0 230.0,166.0 230.5,169.5 231.0,171.6 231.5,172.7 232.0,173.1 232.5,173.2" fill="none" stroke="#9a9a9a" stroke-width="0.85" stroke-dasharray="1 1.1"/>
<path d="M206.5,186.8 219.0,186.7 221.0,186.6 222.0,186.3M234.0,185.3 235.5,185.4 243.5,185.2 245.5,185.0 247.0,184.6M272.0,186.5 273.5,186.7 275.5,186.8 300.0,186.8" fill="none" stroke="#a2a2a2" stroke-width="0.9" stroke-dasharray="3.4 3.6"/>
<path d="M222.0,186.3 223.0,185.8 223.5,185.3 224.5,184.1 226.5,181.0 227.0,180.4 227.5,180.0 228.0,179.8 228.5,179.9 229.0,180.2 229.5,180.7 231.5,183.5 232.5,184.5 233.0,184.9 234.0,185.3M247.0,184.6 248.5,183.8 249.5,183.0 250.5,182.0 251.5,180.6 252.5,178.9 253.5,177.0 257.0,169.0 258.5,165.9 259.5,164.3 260.0,163.7 260.5,163.2 261.0,162.9 261.5,162.8 262.0,162.9 262.5,163.4 263.0,164.4 263.5,165.8 264.5,169.4 266.5,177.4 267.5,180.7 268.0,182.0 269.0,184.1 270.0,185.4 271.0,186.1 272.0,186.5" fill="none" stroke="#8a8a8a" stroke-width="0.9" stroke-dasharray="1.4 1.5"/>
<path d="M206.5,200.3 252.5,200.3 255.0,200.2 256.5,199.9M277.0,200.0 278.5,200.2 280.5,200.3 300.0,200.3" fill="none" stroke="#606060" stroke-width="1.1" stroke-dasharray="7.5 7.5"/>
<path d="M256.5,199.9 257.5,199.4 258.5,198.5 259.5,197.0 260.0,196.0 260.5,194.8 261.5,191.6 264.5,179.8 265.0,178.3 265.5,177.2 266.0,176.4 266.5,176.2 267.0,176.4 267.5,177.2 268.0,178.3 268.5,179.8 271.5,191.6 272.5,194.8 273.0,196.0 274.0,197.9 275.0,199.0 276.0,199.7 277.0,200.0" fill="none" stroke="#222" stroke-width="1" stroke-dasharray="2.6 1.6"/>
<path d="M206.5,213.8 247.5,213.8 251.0,213.6 253.0,213.1M277.0,213.5 278.5,213.7 280.5,213.8 300.0,213.8" fill="none" stroke="#484848" stroke-width="1" stroke-dasharray="3.3 4.1"/>
<path d="M253.0,213.1 254.5,212.4 255.5,211.6 256.5,210.4 257.5,208.8 258.5,206.8 259.5,204.4 263.0,194.2 264.0,191.6 265.0,189.8 265.5,189.2 266.0,188.8 266.5,188.7 267.0,189.0 267.5,189.7 268.0,190.9 268.5,192.5 271.5,204.8 272.5,208.0 273.0,209.3 274.0,211.3 275.0,212.5 276.0,213.2 277.0,213.5" fill="none" stroke="#1a1a1a" stroke-width="1" stroke-dasharray="1.3 1.6"/>
<path d="M206.5,227.3 218.0,227.2 224.5,227.1M276.0,227.1 279.5,227.3 300.0,227.3" fill="none" stroke="#a8a8a8" stroke-width="0.8"/>
<path d="M224.5,227.1 230.0,226.7 238.5,225.7 245.5,225.0 247.5,224.6 248.5,224.2 249.5,223.7 250.5,223.0 251.5,222.0 253.0,220.1 254.0,218.4 255.0,216.5 258.5,208.5 260.0,205.4 261.0,203.8 261.5,203.3 262.0,202.8 262.5,202.5 263.0,202.4 263.5,202.5 264.0,203.0 264.5,203.8 265.0,204.9 266.0,207.9 269.0,218.6 270.0,221.4 271.0,223.6 272.0,225.1 273.0,226.0 273.5,226.4 274.5,226.8 276.0,227.1" fill="none" stroke="#8a8a8a" stroke-width="0.85" stroke-dasharray="1.1 1.1"/>
<path d="M206.5,240.8 254.0,240.8 256.5,240.8 258.0,240.6M280.5,240.7 283.5,240.8 300.0,240.8" fill="none" stroke="#9a9a9a" stroke-width="0.9"/>
<path d="M258.0,240.6 259.5,240.2 260.5,239.5 261.5,238.3 262.5,236.3 263.0,235.0 264.0,231.8 267.0,219.5 267.5,217.9 268.0,216.7 268.5,216.0 269.0,215.7 269.5,216.0 270.0,216.7 270.5,217.9 271.0,219.5 274.0,231.8 275.0,235.0 275.5,236.3 276.5,238.3 277.5,239.5 278.0,239.9 279.0,240.4 280.5,240.7" fill="none" stroke="#2a2a2a" stroke-width="1"/>
<rect x="206.00" y="147.30" width="96.00" height="95.10" fill="none" stroke="#858585" stroke-width="1"/>
<path d="M302.00,147.30V242.40" stroke="#4a4a4a" stroke-width="1"/>
<path d="M204.40,173.30h1.6 M204.40,186.80h1.6 M204.40,200.30h1.6 M204.40,213.80h1.6 M204.40,227.30h1.6 M204.40,240.80h1.6" stroke="#999" stroke-width="0.6"/>
<path d="M207.00,243.70H301.00" stroke="#a0a0a0" stroke-width="0.7" stroke-dasharray="1 1.2"/>
<path d="M208.50,243.00v1.6 M211.00,243.00v1.6 M213.50,243.00v1.6 M216.00,243.00v1.6 M218.50,243.00v1.6 M221.00,243.00v1.6 M223.00,243.00v1.6 M228.00,243.00v1.6 M230.00,243.00v1.6 M232.50,243.00v1.6 M235.00,243.00v1.6 M237.50,243.00v1.6 M240.00,243.00v1.6 M242.00,243.00v1.6 M251.68,243.00v1.6 M275.52,243.00v1.6 M256.17,243.00v1.6 M279.04,243.00v1.6 M259.35,243.00v1.6 M281.54,243.00v1.6 M261.82,243.00v1.6 M283.48,243.00v1.6 M263.84,243.00v1.6 M285.06,243.00v1.6 M265.55,243.00v1.6 M286.40,243.00v1.6 M267.03,243.00v1.6 M287.56,243.00v1.6 M268.33,243.00v1.6 M288.58,243.00v1.6 M295.52,243.00v1.6 M299.04,243.00v1.6 M225.50,243.00v2.8 M244.00,243.00v2.8 M269.50,243.00v2.8 M289.50,243.00v2.8" stroke="#5a5a5a" stroke-width="0.65" fill="none"/>
<rect x="224.40" y="243.10" width="1.9" height="1.8" fill="#000"/>
<text x="224.80" y="255.40" font-size="4.6" font-weight="normal" fill="#606060" text-anchor="middle" >0</text>
<text x="242.20" y="255.40" font-size="4.6" font-weight="normal" fill="#606060" text-anchor="middle" >10</text>
<text x="244.50" y="251.50" font-size="3.8" font-weight="normal" fill="#606060" text-anchor="start" >3</text>
<text x="266.90" y="255.40" font-size="4.6" font-weight="normal" fill="#606060" text-anchor="middle" >10</text>
<text x="269.20" y="251.50" font-size="3.8" font-weight="normal" fill="#606060" text-anchor="start" >4</text>
<text x="287.40" y="255.40" font-size="4.6" font-weight="normal" fill="#606060" text-anchor="middle" >10</text>
<text x="289.70" y="251.50" font-size="3.8" font-weight="normal" fill="#606060" text-anchor="start" >5</text>
<text x="254.00" y="266.50" font-size="5.3" font-weight="bold" fill="#111" text-anchor="middle" >CD38 - FITC</text>
<path d="M306.0,173.3 324.0,173.3 325.0,173.2M332.0,173.3 399.5,173.3" fill="none" stroke="#cdcdcd" stroke-width="0.8"/>
<path d="M325.0,173.2 325.5,172.9 326.0,172.0 326.5,169.4 327.0,164.3 328.0,151.1 328.5,149.4 329.0,153.3 330.0,166.6 330.5,170.7 331.0,172.5 331.5,173.1 332.0,173.3" fill="none" stroke="#9a9a9a" stroke-width="0.85" stroke-dasharray="1 1.1"/>
<path d="M306.0,186.8 321.0,186.8 322.0,186.7 323.0,186.5M335.5,186.7 338.0,186.8 399.5,186.8" fill="none" stroke="#a2a2a2" stroke-width="0.9" stroke-dasharray="3.4 3.6"/>
<path d="M323.0,186.5 323.5,186.3 324.0,185.7 324.5,184.9 325.0,183.6 325.5,181.6 326.5,175.8 328.0,165.6 328.5,163.5 329.0,162.8 329.5,163.5 330.0,165.6 332.0,179.0 332.5,181.6 333.0,183.6 333.5,184.9 334.0,185.7 334.5,186.3 335.0,186.5 335.5,186.7" fill="none" stroke="#8a8a8a" stroke-width="0.9" stroke-dasharray="1.4 1.5"/>
<path d="M306.0,200.3 320.5,200.3 321.5,200.2 322.5,200.0M336.0,200.2 337.0,200.3 339.0,200.3 399.5,200.3" fill="none" stroke="#606060" stroke-width="1.1" stroke-dasharray="7.5 7.5"/>
<path d="M322.5,200.0 323.0,199.7 323.5,199.3 324.0,198.6 324.5,197.4 325.0,195.9 326.0,191.2 327.5,182.0 328.0,179.5 328.5,177.8 329.0,177.2 329.5,177.8 330.0,179.5 330.5,182.0 332.0,191.2 333.0,195.9 333.5,197.4 334.0,198.6 334.5,199.3 335.0,199.7 336.0,200.2" fill="none" stroke="#222" stroke-width="1" stroke-dasharray="2.6 1.6"/>
<path d="M306.0,213.8 320.5,213.8 321.5,213.7 322.5,213.5M336.0,213.7 337.0,213.8 339.0,213.8 399.5,213.8" fill="none" stroke="#484848" stroke-width="1" stroke-dasharray="3.3 4.1"/>
<path d="M322.5,213.5 323.0,213.2 323.5,212.8 324.0,212.0 324.5,210.9 325.0,209.3 326.0,204.6 327.5,195.3 328.0,192.8 328.5,191.1 329.0,190.5 329.5,191.1 330.0,192.8 330.5,195.3 332.0,204.6 333.0,209.3 333.5,210.9 334.0,212.0 334.5,212.8 335.0,213.2 336.0,213.7" fill="none" stroke="#1a1a1a" stroke-width="1" stroke-dasharray="1.3 1.6"/>
<path d="M306.0,227.3 321.0,227.3 323.0,227.1M337.5,227.2 340.0,227.3 399.5,227.3" fill="none" stroke="#a8a8a8" stroke-width="0.8"/>
<path d="M323.0,227.1 324.0,226.7 324.5,226.2 325.0,225.4 325.5,224.2 326.0,222.5 327.0,217.4 328.5,207.4 329.0,204.7 329.5,202.8 330.0,202.2 330.5,202.8 331.0,204.7 333.5,220.2 334.0,222.5 334.5,224.2 335.0,225.4 335.5,226.2 336.0,226.7 336.5,227.0 337.5,227.2" fill="none" stroke="#8a8a8a" stroke-width="0.85" stroke-dasharray="1.1 1.1"/>
<path d="M306.0,240.8 319.5,240.8 322.0,240.6M341.5,240.7 345.0,240.8 399.5,240.8" fill="none" stroke="#9a9a9a" stroke-width="0.9"/>
<path d="M322.0,240.6 323.0,240.3 323.5,240.1 324.0,239.7 324.5,239.1 325.0,238.3 325.5,237.3 326.0,236.0 326.5,234.3 327.5,230.1 329.0,222.4 330.0,217.9 330.5,216.2 331.0,215.2 331.5,214.8 332.0,215.2 332.5,216.2 333.0,217.9 336.0,232.4 336.5,234.3 337.5,237.3 338.0,238.3 338.5,239.1 339.0,239.7 340.0,240.3 341.5,240.7" fill="none" stroke="#2a2a2a" stroke-width="1"/>
<rect x="305.50" y="147.30" width="96.00" height="95.10" fill="none" stroke="#858585" stroke-width="1"/>
<path d="M401.50,147.30V242.40" stroke="#4a4a4a" stroke-width="1"/>
<path d="M303.90,173.30h1.6 M303.90,186.80h1.6 M303.90,200.30h1.6 M303.90,213.80h1.6 M303.90,227.30h1.6 M303.90,240.80h1.6" stroke="#999" stroke-width="0.6"/>
<path d="M306.50,243.70H400.50" stroke="#a0a0a0" stroke-width="0.7" stroke-dasharray="1 1.2"/>
<path d="M308.00,243.00v1.6 M310.50,243.00v1.6 M313.00,243.00v1.6 M315.50,243.00v1.6 M318.00,243.00v1.6 M320.50,243.00v1.6 M322.50,243.00v1.6 M327.50,243.00v1.6 M329.50,243.00v1.6 M332.00,243.00v1.6 M334.50,243.00v1.6 M337.00,243.00v1.6 M339.50,243.00v1.6 M341.50,243.00v1.6 M351.18,243.00v1.6 M375.02,243.00v1.6 M355.67,243.00v1.6 M378.54,243.00v1.6 M358.85,243.00v1.6 M381.04,243.00v1.6 M361.32,243.00v1.6 M382.98,243.00v1.6 M363.34,243.00v1.6 M384.56,243.00v1.6 M365.05,243.00v1.6 M385.90,243.00v1.6 M366.53,243.00v1.6 M387.06,243.00v1.6 M367.83,243.00v1.6 M388.08,243.00v1.6 M395.02,243.00v1.6 M398.54,243.00v1.6 M325.00,243.00v2.8 M343.50,243.00v2.8 M369.00,243.00v2.8 M389.00,243.00v2.8" stroke="#5a5a5a" stroke-width="0.65" fill="none"/>
<rect x="323.90" y="243.10" width="1.9" height="1.8" fill="#000"/>
<text x="324.30" y="255.40" font-size="4.6" font-weight="normal" fill="#606060" text-anchor="middle" >0</text>
<text x="341.70" y="255.40" font-size="4.6" font-weight="normal" fill="#606060" text-anchor="middle" >10</text>
<text x="344.00" y="251.50" font-size="3.8" font-weight="normal" fill="#606060" text-anchor="start" >3</text>
<text x="366.40" y="255.40" font-size="4.6" font-weight="normal" fill="#606060" text-anchor="middle" >10</text>
<text x="368.70" y="251.50" font-size="3.8" font-weight="normal" fill="#606060" text-anchor="start" >4</text>
<text x="386.90" y="255.40" font-size="4.6" font-weight="normal" fill="#606060" text-anchor="middle" >10</text>
<text x="389.20" y="251.50" font-size="3.8" font-weight="normal" fill="#606060" text-anchor="start" >5</text>
<text x="353.50" y="266.50" font-size="5.3" font-weight="bold" fill="#111" text-anchor="middle" >CD33 - FITC</text>
<path d="M6.0,365.5 21.5,365.5 22.5,365.5 23.0,365.3M30.5,365.5 99.0,365.5" fill="none" stroke="#d0d0d0" stroke-width="0.8"/>
<path d="M23.0,365.3 23.5,364.7 24.0,363.0 24.5,359.1 25.0,352.3 26.0,335.3 26.5,332.0 27.0,335.3 28.0,352.3 28.5,359.1 29.0,363.0 29.5,364.7 30.0,365.3 30.5,365.5" fill="none" stroke="#b0b0b0" stroke-width="0.8" stroke-dasharray="1 1.1"/>
<path d="M6.0,383.1 11.0,382.9 15.0,382.7 26.5,381.2 30.5,380.9 33.0,380.9 36.0,381.1 45.5,382.2 47.0,382.1 48.0,381.9M69.0,383.0 72.0,383.2 99.0,383.2" fill="none" stroke="#747474" stroke-width="1.1" stroke-dasharray="7.4 7.4"/>
<path d="M48.0,381.9 49.0,381.4 50.0,380.4 51.0,378.8 52.0,376.4 52.5,374.8 53.5,371.0 57.0,354.7 58.0,351.6 58.5,350.6 59.0,350.2 59.5,350.3 60.0,351.3 60.5,353.1 61.5,358.6 63.5,371.4 64.5,376.3 65.0,378.1 65.5,379.6 66.0,380.7 66.5,381.5 67.0,382.1 67.5,382.5 68.0,382.7 69.0,383.0" fill="none" stroke="#2a2a2a" stroke-width="1.1" stroke-dasharray="3.2 2.2"/>
<path d="M6.0,400.9 11.0,400.8 14.5,400.7M42.0,400.7 45.0,400.8 47.0,400.7M70.0,400.8 73.0,400.9 99.0,400.9" fill="none" stroke="#b0b0b0" stroke-width="0.8"/>
<path d="M14.5,400.7 16.5,400.4 18.5,400.0 25.5,398.1 28.0,397.9 29.5,398.0 31.0,398.3 38.0,400.2 40.0,400.5 42.0,400.7M47.0,400.7 48.5,400.2 49.5,399.6 50.0,399.1 51.0,397.8 52.0,395.7 53.0,392.7 54.0,388.8 57.5,372.2 58.5,369.0 59.0,368.0 59.5,367.5 60.0,367.7 60.5,368.7 61.0,370.5 62.0,376.0 64.0,388.9 65.0,393.9 65.5,395.7 66.0,397.2 66.5,398.3 67.0,399.2 67.5,399.8 68.5,400.4 70.0,400.8" fill="none" stroke="#aaa" stroke-width="0.85"/>
<path d="M69.0,418.5 72.5,418.6 99.0,418.6" fill="none" stroke="#9a9a9a" stroke-width="0.9"/>
<path d="M6.0,417.9 21.5,416.9 25.0,416.5 28.0,416.0 30.5,415.3 33.5,414.2 39.0,412.0 43.5,410.3 44.5,409.9 46.5,408.8 47.5,408.1 48.5,407.2 49.5,406.0 50.5,404.3 52.0,401.0 55.0,392.6 56.0,390.1 57.0,388.2 57.5,387.5 58.0,387.1 58.5,386.8 59.0,386.9 59.5,387.7 60.0,389.3 61.0,394.4 63.0,406.7 64.0,411.5 64.5,413.4 65.0,414.8 65.5,416.0 66.0,416.8 66.5,417.4 67.5,418.1 69.0,418.5" fill="none" stroke="#2a2a2a" stroke-width="1"/>
<rect x="5.50" y="331.00" width="95.75" height="88.60" fill="none" stroke="#858585" stroke-width="1"/>
<path d="M101.25,331.00V419.60" stroke="#4a4a4a" stroke-width="1"/>
<path d="M3.90,365.50h1.6 M3.90,383.20h1.6 M3.90,400.90h1.6 M3.90,418.60h1.6" stroke="#999" stroke-width="0.6"/>
<path d="M6.50,420.90H100.25" stroke="#a0a0a0" stroke-width="0.7" stroke-dasharray="1 1.2"/>
<path d="M8.00,420.20v1.6 M10.50,420.20v1.6 M13.00,420.20v1.6 M15.50,420.20v1.6 M18.00,420.20v1.6 M20.50,420.20v1.6 M22.50,420.20v1.6 M27.50,420.20v1.6 M29.50,420.20v1.6 M32.00,420.20v1.6 M34.50,420.20v1.6 M37.00,420.20v1.6 M39.50,420.20v1.6 M41.50,420.20v1.6 M51.18,420.20v1.6 M75.02,420.20v1.6 M55.67,420.20v1.6 M78.54,420.20v1.6 M58.85,420.20v1.6 M81.04,420.20v1.6 M61.32,420.20v1.6 M82.98,420.20v1.6 M63.34,420.20v1.6 M84.56,420.20v1.6 M65.05,420.20v1.6 M85.90,420.20v1.6 M66.53,420.20v1.6 M87.06,420.20v1.6 M67.83,420.20v1.6 M88.08,420.20v1.6 M95.02,420.20v1.6 M98.54,420.20v1.6 M25.00,420.20v2.8 M43.50,420.20v2.8 M69.00,420.20v2.8 M89.00,420.20v2.8" stroke="#5a5a5a" stroke-width="0.65" fill="none"/>
<rect x="23.90" y="420.30" width="1.9" height="1.8" fill="#000"/>
<text x="24.80" y="431.20" font-size="4.6" font-weight="normal" fill="#606060" text-anchor="middle" >0</text>
<text x="41.70" y="431.20" font-size="4.6" font-weight="normal" fill="#606060" text-anchor="middle" >10</text>
<text x="44.00" y="428.20" font-size="3.8" font-weight="normal" fill="#606060" text-anchor="start" >3</text>
<text x="66.40" y="431.20" font-size="4.6" font-weight="normal" fill="#606060" text-anchor="middle" >10</text>
<text x="68.70" y="428.20" font-size="3.8" font-weight="normal" fill="#606060" text-anchor="start" >4</text>
<text x="86.90" y="431.20" font-size="4.6" font-weight="normal" fill="#606060" text-anchor="middle" >10</text>
<text x="89.20" y="428.20" font-size="3.8" font-weight="normal" fill="#606060" text-anchor="start" >5</text>
<text x="53.38" y="441.90" font-size="5.3" font-weight="bold" fill="#111" text-anchor="middle" >CD19 - PE-Alexa750</text>
<path d="M109.2,365.5 127.2,365.5 128.8,365.4M137.2,365.5 203.2,365.5" fill="none" stroke="#d0d0d0" stroke-width="0.8"/>
<path d="M128.8,365.4 129.2,365.2 129.8,364.4 130.2,362.6 130.8,358.8 131.2,352.5 132.2,336.6 132.8,332.3 133.2,333.4 133.8,339.4 134.8,355.3 135.2,360.6 135.8,363.5 136.2,364.8 136.8,365.3 137.2,365.5" fill="none" stroke="#b0b0b0" stroke-width="0.8" stroke-dasharray="1 1.1"/>
<path d="M109.2,383.2 124.2,383.2 126.2,383.0 127.8,382.7M140.2,382.8 141.8,383.0 143.2,382.8M163.2,383.0 164.8,383.2 166.8,383.2 203.2,383.2" fill="none" stroke="#747474" stroke-width="1.1" stroke-dasharray="7.4 7.4"/>
<path d="M127.8,382.7 129.2,382.0 132.2,379.8 133.2,379.3 133.8,379.2 134.2,379.2 135.2,379.6 138.2,381.8 139.2,382.4 140.2,382.8M143.2,382.8 144.2,382.4 145.2,381.5 146.2,379.9 147.2,377.3 147.8,375.7 148.8,371.4 151.8,355.8 152.2,353.8 152.8,352.4 153.2,351.5 153.8,351.2 154.2,351.7 154.8,353.1 155.2,355.2 157.8,370.3 158.8,375.4 159.2,377.4 159.8,379.0 160.2,380.2 160.8,381.2 161.2,381.9 161.8,382.3 162.2,382.6 163.2,383.0" fill="none" stroke="#2a2a2a" stroke-width="1.1" stroke-dasharray="3.2 2.2"/>
<path d="M109.2,400.9 124.2,400.9 126.2,400.8 127.2,400.7M163.8,400.8 167.2,400.9 203.2,400.9" fill="none" stroke="#b0b0b0" stroke-width="0.8"/>
<path d="M127.2,400.7 128.8,400.2 129.8,399.5 130.8,398.6 133.2,395.9 134.2,395.3 134.8,395.2 135.2,395.3 136.2,395.8 138.8,398.4 139.8,399.2 140.2,399.4 140.8,399.5 141.2,399.5 141.8,399.4 142.2,399.1 142.8,398.7 143.2,398.1 144.2,396.2 144.8,395.0 145.8,391.8 146.8,387.7 149.2,375.5 150.2,371.2 150.8,369.6 151.2,368.4 151.8,367.7 152.2,367.5 152.8,367.9 153.2,369.0 153.8,370.6 154.8,375.3 157.2,389.1 158.2,393.4 158.8,395.1 159.8,397.6 160.8,399.2 161.2,399.7 162.2,400.4 163.8,400.8" fill="none" stroke="#aaa" stroke-width="0.85"/>
<path d="M109.2,418.6 126.2,418.6 129.8,418.4M158.8,418.4 161.8,418.6 163.8,418.4M171.8,418.5 174.8,418.6 203.2,418.6" fill="none" stroke="#9a9a9a" stroke-width="0.9"/>
<path d="M129.8,418.4 131.2,418.0 132.2,417.5 132.8,417.2 133.8,416.1 134.2,415.5 135.2,413.6 136.2,411.2 137.2,408.0 138.2,404.1 140.8,393.3 141.8,389.7 142.8,387.0 143.2,386.3 143.8,385.9 144.2,385.9 144.8,386.3 145.2,387.0 146.2,389.7 147.2,393.3 149.8,404.1 150.8,408.0 151.8,411.2 152.8,413.6 153.8,415.5 154.2,416.1 155.2,417.2 155.8,417.5 156.8,418.0 157.8,418.3 158.8,418.4M163.8,418.4 166.8,417.7 167.8,417.6 171.8,418.5" fill="none" stroke="#2a2a2a" stroke-width="1"/>
<rect x="108.75" y="331.00" width="96.50" height="88.60" fill="none" stroke="#858585" stroke-width="1"/>
<path d="M205.25,331.00V419.60" stroke="#4a4a4a" stroke-width="1"/>
<path d="M107.15,365.50h1.6 M107.15,383.20h1.6 M107.15,400.90h1.6 M107.15,418.60h1.6" stroke="#999" stroke-width="0.6"/>
<path d="M109.75,420.90H204.25" stroke="#a0a0a0" stroke-width="0.7" stroke-dasharray="1 1.2"/>
<path d="M111.25,420.20v1.6 M113.75,420.20v1.6 M116.25,420.20v1.6 M118.75,420.20v1.6 M121.25,420.20v1.6 M123.75,420.20v1.6 M125.75,420.20v1.6 M130.75,420.20v1.6 M132.75,420.20v1.6 M135.25,420.20v1.6 M137.75,420.20v1.6 M140.25,420.20v1.6 M142.75,420.20v1.6 M144.75,420.20v1.6 M154.43,420.20v1.6 M178.27,420.20v1.6 M158.92,420.20v1.6 M181.79,420.20v1.6 M162.10,420.20v1.6 M184.29,420.20v1.6 M164.57,420.20v1.6 M186.23,420.20v1.6 M166.59,420.20v1.6 M187.81,420.20v1.6 M168.30,420.20v1.6 M189.15,420.20v1.6 M169.78,420.20v1.6 M190.31,420.20v1.6 M171.08,420.20v1.6 M191.33,420.20v1.6 M198.27,420.20v1.6 M201.79,420.20v1.6 M128.25,420.20v2.8 M146.75,420.20v2.8 M172.25,420.20v2.8 M192.25,420.20v2.8" stroke="#5a5a5a" stroke-width="0.65" fill="none"/>
<rect x="127.15" y="420.30" width="1.9" height="1.8" fill="#000"/>
<text x="128.05" y="431.20" font-size="4.6" font-weight="normal" fill="#606060" text-anchor="middle" >0</text>
<text x="144.95" y="431.20" font-size="4.6" font-weight="normal" fill="#606060" text-anchor="middle" >10</text>
<text x="147.25" y="428.20" font-size="3.8" font-weight="normal" fill="#606060" text-anchor="start" >3</text>
<text x="169.65" y="431.20" font-size="4.6" font-weight="normal" fill="#606060" text-anchor="middle" >10</text>
<text x="171.95" y="428.20" font-size="3.8" font-weight="normal" fill="#606060" text-anchor="start" >4</text>
<text x="190.15" y="431.20" font-size="4.6" font-weight="normal" fill="#606060" text-anchor="middle" >10</text>
<text x="192.45" y="428.20" font-size="3.8" font-weight="normal" fill="#606060" text-anchor="start" >5</text>
<text x="157.00" y="441.90" font-size="5.3" font-weight="bold" fill="#111" text-anchor="middle" >CD45 - PacOrange</text>
<path d="M213.0,365.5 228.5,365.5 229.5,365.5 230.0,365.3M237.5,365.5 306.0,365.5" fill="none" stroke="#d0d0d0" stroke-width="0.8"/>
<path d="M230.0,365.3 230.5,364.7 231.0,363.0 231.5,359.1 232.0,352.3 233.0,335.3 233.5,332.0 234.0,335.3 235.0,352.3 235.5,359.1 236.0,363.0 236.5,364.7 237.0,365.3 237.5,365.5" fill="none" stroke="#b0b0b0" stroke-width="0.8" stroke-dasharray="1 1.1"/>
<path d="M213.0,383.2 226.0,383.2 227.5,383.0 230.0,382.3 231.0,382.2 232.0,382.3 234.5,383.0 236.5,383.2 239.0,383.0 241.5,382.4 242.5,382.2 243.5,382.3 246.5,383.0 249.0,383.2 275.5,383.2 278.0,383.0 279.0,382.9 280.0,382.6M301.0,383.1 302.5,383.2 306.0,383.2" fill="none" stroke="#747474" stroke-width="1.1" stroke-dasharray="7.4 7.4"/>
<path d="M280.0,382.6 281.0,382.1 281.5,381.7 282.5,380.6 283.5,379.0 284.5,376.8 285.5,373.9 286.5,370.2 289.5,357.1 290.5,353.4 291.5,350.8 292.0,350.0 292.5,349.6 293.0,349.8 293.5,351.3 294.0,353.8 296.5,372.6 297.5,377.9 298.0,379.6 298.5,380.9 299.0,381.8 299.5,382.4 300.0,382.7 301.0,383.1" fill="none" stroke="#2a2a2a" stroke-width="1.1" stroke-dasharray="3.2 2.2"/>
<path d="M213.0,400.9 220.5,400.7M254.0,400.7 259.5,400.9 269.5,400.9 274.0,400.9 276.5,400.7M302.5,400.8 306.0,400.9" fill="none" stroke="#b0b0b0" stroke-width="0.8"/>
<path d="M220.5,400.7 225.0,400.3 233.0,399.1 237.0,398.9 241.0,399.1 249.0,400.3 254.0,400.7M276.5,400.7 277.5,400.5 278.5,400.2 280.0,399.3 281.0,398.3 281.5,397.7 282.5,396.0 283.0,395.0 284.0,392.5 285.0,389.4 286.0,385.8 288.5,375.9 289.5,372.3 290.5,369.6 291.0,368.6 291.5,367.9 292.0,367.6 292.5,367.6 293.0,368.4 293.5,370.1 294.5,375.4 296.5,388.4 297.5,393.5 298.0,395.4 298.5,397.0 299.0,398.1 299.5,399.0 300.0,399.7 301.0,400.4 301.5,400.6 302.5,400.8" fill="none" stroke="#aaa" stroke-width="0.85"/>
<path d="M213.0,418.5 218.0,418.4M294.0,418.5 296.5,418.6 306.0,418.6" fill="none" stroke="#9a9a9a" stroke-width="0.9"/>
<path d="M218.0,418.4 225.5,418.1 233.0,417.6 239.5,417.0 244.5,416.3 248.0,415.7 251.0,414.9 253.5,414.2 260.5,411.8 264.0,410.9 267.0,410.3 271.0,409.9 274.0,409.3 274.5,409.1 275.0,408.9 275.5,408.4 276.0,407.8 277.0,405.7 277.5,404.3 278.5,400.7 281.0,390.5 281.5,388.9 282.0,387.8 282.5,387.1 283.0,386.9 283.5,387.3 284.0,388.4 284.5,390.1 285.5,394.9 287.0,403.5 288.0,408.6 288.5,410.7 289.5,414.1 290.5,416.2 291.5,417.5 292.5,418.1 294.0,418.5" fill="none" stroke="#2a2a2a" stroke-width="1"/>
<rect x="212.50" y="331.00" width="95.50" height="88.60" fill="none" stroke="#858585" stroke-width="1"/>
<path d="M308.00,331.00V419.60" stroke="#4a4a4a" stroke-width="1"/>
<path d="M210.90,365.50h1.6 M210.90,383.20h1.6 M210.90,400.90h1.6 M210.90,418.60h1.6" stroke="#999" stroke-width="0.6"/>
<path d="M213.50,420.90H307.00" stroke="#a0a0a0" stroke-width="0.7" stroke-dasharray="1 1.2"/>
<path d="M215.00,420.20v1.6 M217.50,420.20v1.6 M220.00,420.20v1.6 M222.50,420.20v1.6 M225.00,420.20v1.6 M227.50,420.20v1.6 M229.50,420.20v1.6 M234.50,420.20v1.6 M236.50,420.20v1.6 M239.00,420.20v1.6 M241.50,420.20v1.6 M244.00,420.20v1.6 M246.50,420.20v1.6 M248.50,420.20v1.6 M258.18,420.20v1.6 M282.02,420.20v1.6 M262.67,420.20v1.6 M285.54,420.20v1.6 M265.85,420.20v1.6 M288.04,420.20v1.6 M268.32,420.20v1.6 M289.98,420.20v1.6 M270.34,420.20v1.6 M291.56,420.20v1.6 M272.05,420.20v1.6 M292.90,420.20v1.6 M273.53,420.20v1.6 M294.06,420.20v1.6 M274.83,420.20v1.6 M295.08,420.20v1.6 M302.02,420.20v1.6 M305.54,420.20v1.6 M232.00,420.20v2.8 M250.50,420.20v2.8 M276.00,420.20v2.8 M296.00,420.20v2.8" stroke="#5a5a5a" stroke-width="0.65" fill="none"/>
<rect x="230.90" y="420.30" width="1.9" height="1.8" fill="#000"/>
<text x="231.80" y="431.20" font-size="4.6" font-weight="normal" fill="#606060" text-anchor="middle" >0</text>
<text x="248.70" y="431.20" font-size="4.6" font-weight="normal" fill="#606060" text-anchor="middle" >10</text>
<text x="251.00" y="428.20" font-size="3.8" font-weight="normal" fill="#606060" text-anchor="start" >3</text>
<text x="273.40" y="431.20" font-size="4.6" font-weight="normal" fill="#606060" text-anchor="middle" >10</text>
<text x="275.70" y="428.20" font-size="3.8" font-weight="normal" fill="#606060" text-anchor="start" >4</text>
<text x="293.90" y="431.20" font-size="4.6" font-weight="normal" fill="#606060" text-anchor="middle" >10</text>
<text x="296.20" y="428.20" font-size="3.8" font-weight="normal" fill="#606060" text-anchor="start" >5</text>
<text x="260.25" y="441.90" font-size="5.3" font-weight="bold" fill="#111" text-anchor="middle" >CD10 - APC</text>
<path d="M316.2,365.5 331.8,365.5 333.2,365.4M342.2,365.4 410.2,365.5" fill="none" stroke="#d0d0d0" stroke-width="0.8"/>
<path d="M333.2,365.4 333.8,365.1 334.2,364.3 334.8,362.5 335.2,359.0 335.8,353.3 336.8,338.4 337.2,333.2 337.8,332.2 338.2,335.9 339.8,357.0 340.2,361.3 340.8,363.7 341.2,364.8 341.8,365.3 342.2,365.4" fill="none" stroke="#b0b0b0" stroke-width="0.8" stroke-dasharray="1 1.1"/>
<path d="M316.2,383.2 327.8,383.2 329.2,383.0 330.2,382.8M350.2,382.9 351.8,383.1 354.2,383.2 410.2,383.2" fill="none" stroke="#747474" stroke-width="1.1" stroke-dasharray="7.4 7.4"/>
<path d="M330.2,382.8 331.2,382.2 332.2,381.1 333.2,379.1 333.8,377.7 334.2,375.9 335.2,371.5 338.2,354.4 338.8,352.4 339.2,350.9 339.8,350.2 340.2,350.2 340.8,350.9 341.2,352.4 341.8,354.4 344.8,371.5 345.8,375.9 346.2,377.7 346.8,379.1 347.8,381.1 348.8,382.2 349.2,382.5 350.2,382.9" fill="none" stroke="#2a2a2a" stroke-width="1.1" stroke-dasharray="3.2 2.2"/>
<path d="M316.2,400.9 325.8,400.9 328.2,400.7M351.2,400.8 355.2,400.9 410.2,400.9" fill="none" stroke="#b0b0b0" stroke-width="0.8"/>
<path d="M328.2,400.7 329.2,400.4 329.8,400.2 330.8,399.4 331.8,398.0 332.8,395.7 333.2,394.1 334.2,390.1 335.2,384.9 336.8,376.4 337.8,371.4 338.2,369.6 338.8,368.3 339.2,367.6 339.8,367.6 340.2,368.3 340.8,369.6 341.2,371.4 342.2,376.4 343.8,384.9 344.8,390.1 345.8,394.1 346.2,395.7 347.2,398.0 348.2,399.4 348.8,399.9 349.8,400.4 351.2,400.8" fill="none" stroke="#aaa" stroke-width="0.85"/>
<path d="M316.2,418.6 324.8,418.6 327.2,418.4M352.2,418.5 356.2,418.6 410.2,418.6" fill="none" stroke="#9a9a9a" stroke-width="0.9"/>
<path d="M327.2,418.4 328.8,418.0 329.8,417.4 330.2,416.9 331.2,415.5 332.2,413.3 333.2,410.1 334.2,406.0 336.8,393.4 337.8,389.1 338.2,387.5 338.8,386.4 339.2,385.9 339.8,385.9 340.2,386.4 340.8,387.5 341.2,389.1 342.2,393.4 344.8,406.0 345.8,410.1 346.8,413.3 347.8,415.5 348.2,416.3 349.2,417.4 349.8,417.7 350.8,418.2 352.2,418.5" fill="none" stroke="#2a2a2a" stroke-width="1"/>
<rect x="315.75" y="331.00" width="96.25" height="88.60" fill="none" stroke="#858585" stroke-width="1"/>
<path d="M412.00,331.00V419.60" stroke="#4a4a4a" stroke-width="1"/>
<path d="M314.15,365.50h1.6 M314.15,383.20h1.6 M314.15,400.90h1.6 M314.15,418.60h1.6" stroke="#999" stroke-width="0.6"/>
<path d="M316.75,420.90H411.00" stroke="#a0a0a0" stroke-width="0.7" stroke-dasharray="1 1.2"/>
<path d="M318.25,420.20v1.6 M320.75,420.20v1.6 M323.25,420.20v1.6 M325.75,420.20v1.6 M328.25,420.20v1.6 M330.75,420.20v1.6 M332.75,420.20v1.6 M337.75,420.20v1.6 M339.75,420.20v1.6 M342.25,420.20v1.6 M344.75,420.20v1.6 M347.25,420.20v1.6 M349.75,420.20v1.6 M351.75,420.20v1.6 M361.43,420.20v1.6 M385.27,420.20v1.6 M365.92,420.20v1.6 M388.79,420.20v1.6 M369.10,420.20v1.6 M391.29,420.20v1.6 M371.57,420.20v1.6 M393.23,420.20v1.6 M373.59,420.20v1.6 M394.81,420.20v1.6 M375.30,420.20v1.6 M396.15,420.20v1.6 M376.78,420.20v1.6 M397.31,420.20v1.6 M378.08,420.20v1.6 M398.33,420.20v1.6 M405.27,420.20v1.6 M408.79,420.20v1.6 M335.25,420.20v2.8 M353.75,420.20v2.8 M379.25,420.20v2.8 M399.25,420.20v2.8" stroke="#5a5a5a" stroke-width="0.65" fill="none"/>
<rect x="334.15" y="420.30" width="1.9" height="1.8" fill="#000"/>
<text x="335.05" y="431.20" font-size="4.6" font-weight="normal" fill="#606060" text-anchor="middle" >0</text>
<text x="351.95" y="431.20" font-size="4.6" font-weight="normal" fill="#606060" text-anchor="middle" >10</text>
<text x="354.25" y="428.20" font-size="3.8" font-weight="normal" fill="#606060" text-anchor="start" >3</text>
<text x="376.65" y="431.20" font-size="4.6" font-weight="normal" fill="#606060" text-anchor="middle" >10</text>
<text x="378.95" y="428.20" font-size="3.8" font-weight="normal" fill="#606060" text-anchor="start" >4</text>
<text x="397.15" y="431.20" font-size="4.6" font-weight="normal" fill="#606060" text-anchor="middle" >10</text>
<text x="399.45" y="428.20" font-size="3.8" font-weight="normal" fill="#606060" text-anchor="start" >5</text>
<text x="363.88" y="441.90" font-size="5.3" font-weight="bold" fill="#111" text-anchor="middle" >CD7 - PE</text>
<path d="M420.5,365.5 437.0,365.5 438.0,365.5 438.5,365.3M446.0,365.5 514.0,365.5" fill="none" stroke="#d0d0d0" stroke-width="0.8"/>
<path d="M438.5,365.3 439.0,364.7 439.5,363.0 440.0,359.1 440.5,352.3 441.5,335.3 442.0,332.0 442.5,335.3 443.5,352.3 444.0,359.1 444.5,363.0 445.0,364.7 445.5,365.3 446.0,365.5" fill="none" stroke="#b0b0b0" stroke-width="0.8" stroke-dasharray="1 1.1"/>
<path d="M420.5,383.2 431.5,383.2 433.0,383.0 434.0,382.8M453.5,383.0 455.0,383.2 457.5,383.2 514.0,383.2" fill="none" stroke="#747474" stroke-width="1.1" stroke-dasharray="7.4 7.4"/>
<path d="M434.0,382.8 435.0,382.2 435.5,381.7 436.0,381.0 437.0,378.8 437.5,377.3 438.0,375.4 439.0,370.6 441.0,358.7 442.0,353.8 442.5,352.1 443.0,351.1 443.5,350.8 444.0,351.4 444.5,352.7 445.0,354.6 446.0,359.9 448.0,371.7 449.0,376.2 449.5,377.9 450.0,379.3 450.5,380.4 451.0,381.3 452.0,382.3 452.5,382.6 453.5,383.0" fill="none" stroke="#2a2a2a" stroke-width="1.1" stroke-dasharray="3.2 2.2"/>
<path d="M420.5,400.9 428.5,400.9 431.0,400.7M460.5,400.8 465.5,400.9 514.0,400.9" fill="none" stroke="#b0b0b0" stroke-width="0.8"/>
<path d="M431.0,400.7 432.5,400.4 433.5,399.8 434.0,399.4 435.0,398.2 435.5,397.4 436.5,395.1 437.5,392.0 438.5,387.9 441.0,375.7 442.0,371.4 442.5,369.8 443.0,368.5 443.5,367.8 444.0,367.5 444.5,367.7 445.0,368.2 445.5,369.0 446.5,371.4 447.5,374.8 451.0,388.4 452.5,393.0 453.5,395.4 454.0,396.4 455.0,397.9 455.5,398.5 456.5,399.4 458.0,400.2 459.0,400.5 460.5,400.8" fill="none" stroke="#aaa" stroke-width="0.85"/>
<path d="M420.5,418.6 431.5,418.6 434.0,418.4M465.0,418.4 470.5,418.6 514.0,418.6" fill="none" stroke="#9a9a9a" stroke-width="0.9"/>
<path d="M434.0,418.4 435.0,418.1 435.5,417.7 436.0,417.3 436.5,416.5 437.0,415.5 437.5,414.2 438.0,412.4 439.0,407.6 441.5,392.1 442.0,389.8 442.5,388.3 443.0,387.6 443.5,387.7 444.0,388.4 444.5,389.6 445.5,393.2 447.5,402.1 448.5,406.0 449.5,408.8 450.5,410.8 451.5,412.1 452.5,412.9 459.0,416.7 460.5,417.4 462.0,417.9 463.5,418.2 465.0,418.4" fill="none" stroke="#2a2a2a" stroke-width="1"/>
<rect x="420.00" y="331.00" width="95.80" height="88.60" fill="none" stroke="#858585" stroke-width="1"/>
<path d="M515.80,331.00V419.60" stroke="#4a4a4a" stroke-width="1"/>
<path d="M418.40,365.50h1.6 M418.40,383.20h1.6 M418.40,400.90h1.6 M418.40,418.60h1.6" stroke="#999" stroke-width="0.6"/>
<path d="M421.00,420.90H514.80" stroke="#a0a0a0" stroke-width="0.7" stroke-dasharray="1 1.2"/>
<path d="M422.50,420.20v1.6 M425.00,420.20v1.6 M427.50,420.20v1.6 M430.00,420.20v1.6 M432.50,420.20v1.6 M435.00,420.20v1.6 M437.00,420.20v1.6 M442.00,420.20v1.6 M444.00,420.20v1.6 M446.50,420.20v1.6 M449.00,420.20v1.6 M451.50,420.20v1.6 M454.00,420.20v1.6 M456.00,420.20v1.6 M465.68,420.20v1.6 M489.52,420.20v1.6 M470.17,420.20v1.6 M493.04,420.20v1.6 M473.35,420.20v1.6 M495.54,420.20v1.6 M475.82,420.20v1.6 M497.48,420.20v1.6 M477.84,420.20v1.6 M499.06,420.20v1.6 M479.55,420.20v1.6 M500.40,420.20v1.6 M481.03,420.20v1.6 M501.56,420.20v1.6 M482.33,420.20v1.6 M502.58,420.20v1.6 M509.52,420.20v1.6 M513.04,420.20v1.6 M439.50,420.20v2.8 M458.00,420.20v2.8 M483.50,420.20v2.8 M503.50,420.20v2.8" stroke="#5a5a5a" stroke-width="0.65" fill="none"/>
<rect x="438.40" y="420.30" width="1.9" height="1.8" fill="#000"/>
<text x="439.30" y="431.20" font-size="4.6" font-weight="normal" fill="#606060" text-anchor="middle" >0</text>
<text x="456.20" y="431.20" font-size="4.6" font-weight="normal" fill="#606060" text-anchor="middle" >10</text>
<text x="458.50" y="428.20" font-size="3.8" font-weight="normal" fill="#606060" text-anchor="start" >3</text>
<text x="480.90" y="431.20" font-size="4.6" font-weight="normal" fill="#606060" text-anchor="middle" >10</text>
<text x="483.20" y="428.20" font-size="3.8" font-weight="normal" fill="#606060" text-anchor="start" >4</text>
<text x="501.40" y="431.20" font-size="4.6" font-weight="normal" fill="#606060" text-anchor="middle" >10</text>
<text x="503.70" y="428.20" font-size="3.8" font-weight="normal" fill="#606060" text-anchor="start" >5</text>
<text x="467.90" y="441.90" font-size="5.3" font-weight="bold" fill="#111" text-anchor="middle" >CD13 - PE</text>
<path d="M6.0,485.5 22.0,485.5 23.0,485.4M31.0,485.50H99.0" fill="none" stroke="#d0d0d0" stroke-width="0.8"/>
<path d="M23.0,485.4 23.5,485.0 24.0,483.8 24.5,481.0 25.0,475.3 26.0,458.1 26.5,452.5 27.0,453.1 27.5,459.7 28.5,476.7 29.0,481.7 29.5,484.2 30.0,485.1 30.5,485.4 31.0,485.5" fill="none" stroke="#b0b0b0" stroke-width="0.8" stroke-dasharray="1 1.1"/>
<path d="M6.0,503.2 13.5,503.2 15.0,503.0 16.0,502.8M38.5,502.9 40.0,503.2 43.0,503.2 99.0,503.2" fill="none" stroke="#747474" stroke-width="1.1" stroke-dasharray="7.4 7.4"/>
<path d="M16.0,502.8 17.0,502.2 18.0,501.3 19.0,499.7 20.0,497.3 20.5,495.7 21.5,491.8 24.0,479.5 25.0,475.0 25.5,473.2 26.0,471.9 26.5,471.0 27.0,470.8 27.5,471.0 28.0,471.9 28.5,473.2 29.0,475.0 30.0,479.5 32.5,491.8 33.5,495.7 34.0,497.3 35.0,499.7 36.0,501.3 37.0,502.2 37.5,502.5 38.5,502.9" fill="none" stroke="#2a2a2a" stroke-width="1.1" stroke-dasharray="3.2 2.2"/>
<path d="M6.0,521.0 10.5,521.0 12.5,520.8M42.0,520.9 46.5,521.0 99.0,521.0" fill="none" stroke="#b0b0b0" stroke-width="0.8"/>
<path d="M12.5,520.8 13.5,520.6 14.5,520.3 15.5,519.7 16.0,519.3 17.0,518.2 17.5,517.4 18.5,515.4 19.5,512.6 20.5,509.2 24.0,494.2 25.0,490.7 25.5,489.3 26.0,488.3 26.5,487.7 27.0,487.5 27.5,487.7 28.0,488.3 28.5,489.3 29.0,490.7 30.0,494.2 33.5,509.2 34.5,512.6 35.5,515.4 36.5,517.4 37.0,518.2 38.0,519.3 38.5,519.7 39.5,520.3 40.5,520.6 42.0,520.9" fill="none" stroke="#aaa" stroke-width="0.85"/>
<path d="M6.0,538.7 13.0,538.7 15.5,538.6M38.0,538.6 42.0,538.7 99.0,538.8" fill="none" stroke="#9a9a9a" stroke-width="0.9"/>
<path d="M15.5,538.6 16.5,538.3 17.0,538.1 18.0,537.3 19.0,535.9 20.0,533.5 20.5,531.8 21.5,527.6 24.0,513.6 25.0,508.9 25.5,507.2 26.0,506.2 26.5,505.9 27.0,506.2 27.5,507.2 28.0,508.9 29.0,513.6 31.5,527.6 32.5,531.8 33.0,533.5 34.0,535.9 35.0,537.3 35.5,537.8 36.5,538.3 38.0,538.6" fill="none" stroke="#2a2a2a" stroke-width="1"/>
<rect x="5.50" y="451.10" width="95.75" height="88.50" fill="none" stroke="#858585" stroke-width="1"/>
<path d="M101.25,451.10V539.60" stroke="#4a4a4a" stroke-width="1"/>
<path d="M3.90,485.50h1.6 M3.90,503.25h1.6 M3.90,521.00h1.6 M3.90,538.75h1.6" stroke="#999" stroke-width="0.6"/>
<path d="M6.50,540.90H100.25" stroke="#a0a0a0" stroke-width="0.7" stroke-dasharray="1 1.2"/>
<path d="M8.00,540.20v1.6 M10.50,540.20v1.6 M13.00,540.20v1.6 M15.50,540.20v1.6 M18.00,540.20v1.6 M20.50,540.20v1.6 M22.50,540.20v1.6 M27.50,540.20v1.6 M29.50,540.20v1.6 M32.00,540.20v1.6 M34.50,540.20v1.6 M37.00,540.20v1.6 M39.50,540.20v1.6 M41.50,540.20v1.6 M51.18,540.20v1.6 M75.02,540.20v1.6 M55.67,540.20v1.6 M78.54,540.20v1.6 M58.85,540.20v1.6 M81.04,540.20v1.6 M61.32,540.20v1.6 M82.98,540.20v1.6 M63.34,540.20v1.6 M84.56,540.20v1.6 M65.05,540.20v1.6 M85.90,540.20v1.6 M66.53,540.20v1.6 M87.06,540.20v1.6 M67.83,540.20v1.6 M88.08,540.20v1.6 M95.02,540.20v1.6 M98.54,540.20v1.6 M25.00,540.20v2.8 M43.50,540.20v2.8 M69.00,540.20v2.8 M89.00,540.20v2.8" stroke="#5a5a5a" stroke-width="0.65" fill="none"/>
<rect x="23.90" y="540.30" width="1.9" height="1.8" fill="#000"/>
<text x="24.80" y="551.20" font-size="4.6" font-weight="normal" fill="#606060" text-anchor="middle" >0</text>
<text x="41.70" y="551.20" font-size="4.6" font-weight="normal" fill="#606060" text-anchor="middle" >10</text>
<text x="44.00" y="548.20" font-size="3.8" font-weight="normal" fill="#606060" text-anchor="start" >3</text>
<text x="66.40" y="551.20" font-size="4.6" font-weight="normal" fill="#606060" text-anchor="middle" >10</text>
<text x="68.70" y="548.20" font-size="3.8" font-weight="normal" fill="#606060" text-anchor="start" >4</text>
<text x="86.90" y="551.20" font-size="4.6" font-weight="normal" fill="#606060" text-anchor="middle" >10</text>
<text x="89.20" y="548.20" font-size="3.8" font-weight="normal" fill="#606060" text-anchor="start" >5</text>
<text x="53.38" y="562.10" font-size="5.3" font-weight="bold" fill="#111" text-anchor="middle" >CD20 - APC-H7</text>
<path d="M109.2,485.5 123.2,485.5 124.2,485.4 124.8,485.3M134.8,485.4 136.8,485.5 203.2,485.5" fill="none" stroke="#d0d0d0" stroke-width="0.8"/>
<path d="M124.8,485.3 125.2,484.9 125.8,484.1 126.2,482.4 126.8,479.4 127.2,474.9 128.8,456.7 129.2,453.3 129.8,453.3 130.2,456.7 131.8,474.9 132.2,479.4 132.8,482.4 133.2,484.1 133.8,484.9 134.2,485.3 134.8,485.4" fill="none" stroke="#b0b0b0" stroke-width="0.8" stroke-dasharray="1 1.1"/>
<path d="M109.2,503.2 117.2,503.1 123.8,502.9 140.8,501.8 145.8,501.5 150.2,501.4 157.8,501.5 159.2,501.4 160.8,501.0M184.2,502.9 185.8,503.1 187.8,503.2 203.2,503.2" fill="none" stroke="#747474" stroke-width="1.1" stroke-dasharray="7.4 7.4"/>
<path d="M160.8,501.0 161.8,500.5 162.2,500.2 163.2,499.2 164.2,497.8 165.2,495.9 166.2,493.4 167.2,490.4 170.8,477.5 171.8,474.3 172.8,472.0 173.2,471.2 173.8,470.7 174.2,470.6 174.8,470.9 175.2,472.0 175.8,473.8 176.8,478.9 178.8,490.7 179.8,495.4 180.2,497.3 180.8,498.8 181.8,500.9 182.2,501.6 182.8,502.1 183.2,502.5 184.2,502.9" fill="none" stroke="#2a2a2a" stroke-width="1.1" stroke-dasharray="3.2 2.2"/>
<path d="M109.2,521.0 116.2,520.9 119.8,520.8M185.2,520.9 188.8,521.0 203.2,521.0" fill="none" stroke="#b0b0b0" stroke-width="0.8"/>
<path d="M119.8,520.8 121.8,520.5 123.8,519.9 125.8,518.7 128.8,516.5 129.8,516.0 130.8,515.7 131.8,515.6 132.8,515.8 133.8,516.2 136.2,517.5 137.2,518.0 138.8,518.4 140.2,518.5 142.2,518.5 152.8,517.6 154.2,517.4 155.2,517.1 156.2,516.7 157.2,516.2 158.8,515.0 159.8,513.9 161.2,511.7 162.2,509.9 164.2,505.4 168.8,493.8 170.2,490.7 171.2,489.2 171.8,488.7 172.2,488.3 172.8,488.1 173.2,488.0 173.8,488.3 174.2,489.3 174.8,490.8 175.8,495.3 178.2,508.9 179.2,513.2 180.2,516.3 181.2,518.4 182.2,519.7 182.8,520.1 183.8,520.6 185.2,520.9" fill="none" stroke="#aaa" stroke-width="0.85"/>
<path d="M109.2,538.8 157.8,538.7 160.8,538.7 162.8,538.6M192.8,538.7 194.8,538.7 203.2,538.7" fill="none" stroke="#9a9a9a" stroke-width="0.9"/>
<path d="M162.8,538.6 164.8,538.1 166.2,537.4 167.2,536.6 167.8,536.0 168.8,534.6 169.2,533.7 170.2,531.6 171.8,527.3 174.8,516.8 176.2,512.1 177.2,510.0 177.8,509.2 178.2,508.8 178.8,508.6 179.2,508.9 179.8,509.7 180.2,510.9 182.2,517.9 183.2,520.9 184.2,523.2 186.2,526.9 189.2,535.4 189.8,536.4 190.2,537.2 190.8,537.8 191.8,538.4 192.8,538.7" fill="none" stroke="#2a2a2a" stroke-width="1"/>
<rect x="108.75" y="451.10" width="96.50" height="88.50" fill="none" stroke="#858585" stroke-width="1"/>
<path d="M205.25,451.10V539.60" stroke="#4a4a4a" stroke-width="1"/>
<path d="M107.15,485.50h1.6 M107.15,503.25h1.6 M107.15,521.00h1.6 M107.15,538.75h1.6" stroke="#999" stroke-width="0.6"/>
<path d="M109.75,540.90H204.25" stroke="#a0a0a0" stroke-width="0.7" stroke-dasharray="1 1.2"/>
<path d="M111.25,540.20v1.6 M113.75,540.20v1.6 M116.25,540.20v1.6 M118.75,540.20v1.6 M121.25,540.20v1.6 M123.75,540.20v1.6 M125.75,540.20v1.6 M130.75,540.20v1.6 M132.75,540.20v1.6 M135.25,540.20v1.6 M137.75,540.20v1.6 M140.25,540.20v1.6 M142.75,540.20v1.6 M144.75,540.20v1.6 M154.43,540.20v1.6 M178.27,540.20v1.6 M158.92,540.20v1.6 M181.79,540.20v1.6 M162.10,540.20v1.6 M184.29,540.20v1.6 M164.57,540.20v1.6 M186.23,540.20v1.6 M166.59,540.20v1.6 M187.81,540.20v1.6 M168.30,540.20v1.6 M189.15,540.20v1.6 M169.78,540.20v1.6 M190.31,540.20v1.6 M171.08,540.20v1.6 M191.33,540.20v1.6 M198.27,540.20v1.6 M201.79,540.20v1.6 M128.25,540.20v2.8 M146.75,540.20v2.8 M172.25,540.20v2.8 M192.25,540.20v2.8" stroke="#5a5a5a" stroke-width="0.65" fill="none"/>
<rect x="127.15" y="540.30" width="1.9" height="1.8" fill="#000"/>
<text x="128.05" y="551.20" font-size="4.6" font-weight="normal" fill="#606060" text-anchor="middle" >0</text>
<text x="144.95" y="551.20" font-size="4.6" font-weight="normal" fill="#606060" text-anchor="middle" >10</text>
<text x="147.25" y="548.20" font-size="3.8" font-weight="normal" fill="#606060" text-anchor="start" >3</text>
<text x="169.65" y="551.20" font-size="4.6" font-weight="normal" fill="#606060" text-anchor="middle" >10</text>
<text x="171.95" y="548.20" font-size="3.8" font-weight="normal" fill="#606060" text-anchor="start" >4</text>
<text x="190.15" y="551.20" font-size="4.6" font-weight="normal" fill="#606060" text-anchor="middle" >10</text>
<text x="192.45" y="548.20" font-size="3.8" font-weight="normal" fill="#606060" text-anchor="start" >5</text>
<text x="157.00" y="562.10" font-size="5.3" font-weight="bold" fill="#111" text-anchor="middle" >CD34 - PerCP-Cy5.5</text>
<path d="M213.0,485.5 229.5,485.5 230.5,485.4 231.0,485.3M240.5,485.5 306.0,485.5" fill="none" stroke="#d0d0d0" stroke-width="0.8"/>
<path d="M231.0,485.3 231.5,484.8 232.0,483.8 232.5,481.7 233.0,478.0 233.5,472.5 234.5,459.0 235.0,454.2 235.5,453.0 236.0,455.8 237.5,474.9 238.0,479.7 238.5,482.7 239.0,484.3 239.5,485.1 240.0,485.4 240.5,485.5" fill="none" stroke="#b0b0b0" stroke-width="0.8" stroke-dasharray="1 1.1"/>
<path d="M213.0,503.2 233.5,503.2 235.5,503.1 239.0,502.6 240.5,502.5 242.0,502.5 246.5,503.1 249.0,503.2 261.0,503.2 263.0,503.1 264.5,502.8M284.5,503.1 287.0,503.2 306.0,503.2" fill="none" stroke="#747474" stroke-width="1.1" stroke-dasharray="7.4 7.4"/>
<path d="M264.5,502.8 265.5,502.4 266.0,502.0 267.0,501.0 268.0,499.4 269.0,497.0 269.5,495.4 270.5,491.6 274.0,475.1 275.0,471.8 275.5,470.7 276.0,470.1 276.5,470.2 277.0,471.3 277.5,473.7 278.0,476.9 280.0,492.1 281.0,497.6 281.5,499.4 282.0,500.8 282.5,501.7 283.0,502.3 283.5,502.7 284.5,503.1" fill="none" stroke="#2a2a2a" stroke-width="1.1" stroke-dasharray="3.2 2.2"/>
<path d="M213.0,521.0 219.0,521.0 223.0,520.8M247.5,520.8 251.0,521.0 257.0,521.0 260.5,521.0 262.5,520.8M285.5,520.9 288.0,521.0 306.0,521.0" fill="none" stroke="#b0b0b0" stroke-width="0.8"/>
<path d="M223.0,520.8 226.0,520.5 232.0,519.6 235.0,519.4 238.0,519.6 244.0,520.5 247.5,520.8M262.5,520.8 264.0,520.4 265.0,519.9 265.5,519.4 266.5,518.2 267.5,516.2 268.5,513.4 269.5,509.7 272.5,495.2 273.5,491.1 274.0,489.5 274.5,488.3 275.0,487.7 275.5,487.5 276.0,488.2 276.5,489.7 277.0,491.9 279.5,507.8 280.5,513.1 281.0,515.1 281.5,516.8 282.0,518.0 282.5,519.0 283.0,519.6 284.0,520.4 284.5,520.7 285.5,520.9" fill="none" stroke="#aaa" stroke-width="0.85"/>
<path d="M213.0,538.7 224.0,538.7 228.0,538.5M280.5,538.6 283.0,538.7 306.0,538.8" fill="none" stroke="#9a9a9a" stroke-width="0.9"/>
<path d="M228.0,538.5 230.0,538.1 232.0,537.4 234.0,536.1 237.5,533.3 238.5,532.6 240.0,531.9 241.0,531.7 242.5,531.7 246.5,532.2 250.5,532.0 252.0,532.2 253.0,532.5 254.0,533.0 257.5,535.7 259.0,536.6 260.0,536.8 260.5,536.8 261.0,536.7 261.5,536.4 262.0,535.9 262.5,535.3 263.0,534.5 264.0,532.2 264.5,530.7 266.0,524.9 268.0,515.5 269.0,511.2 270.0,508.1 270.5,507.2 271.0,506.8 271.5,506.9 272.0,508.0 272.5,510.0 273.5,515.9 275.0,526.0 276.0,531.4 276.5,533.4 277.0,535.0 277.5,536.2 278.0,537.1 278.5,537.7 279.0,538.1 279.5,538.4 280.5,538.6" fill="none" stroke="#2a2a2a" stroke-width="1"/>
<rect x="212.50" y="451.10" width="95.50" height="88.50" fill="none" stroke="#858585" stroke-width="1"/>
<path d="M308.00,451.10V539.60" stroke="#4a4a4a" stroke-width="1"/>
<path d="M210.90,485.50h1.6 M210.90,503.25h1.6 M210.90,521.00h1.6 M210.90,538.75h1.6" stroke="#999" stroke-width="0.6"/>
<path d="M213.50,540.90H307.00" stroke="#a0a0a0" stroke-width="0.7" stroke-dasharray="1 1.2"/>
<path d="M215.00,540.20v1.6 M217.50,540.20v1.6 M220.00,540.20v1.6 M222.50,540.20v1.6 M225.00,540.20v1.6 M227.50,540.20v1.6 M229.50,540.20v1.6 M234.50,540.20v1.6 M236.50,540.20v1.6 M239.00,540.20v1.6 M241.50,540.20v1.6 M244.00,540.20v1.6 M246.50,540.20v1.6 M248.50,540.20v1.6 M258.18,540.20v1.6 M282.02,540.20v1.6 M262.67,540.20v1.6 M285.54,540.20v1.6 M265.85,540.20v1.6 M288.04,540.20v1.6 M268.32,540.20v1.6 M289.98,540.20v1.6 M270.34,540.20v1.6 M291.56,540.20v1.6 M272.05,540.20v1.6 M292.90,540.20v1.6 M273.53,540.20v1.6 M294.06,540.20v1.6 M274.83,540.20v1.6 M295.08,540.20v1.6 M302.02,540.20v1.6 M305.54,540.20v1.6 M232.00,540.20v2.8 M250.50,540.20v2.8 M276.00,540.20v2.8 M296.00,540.20v2.8" stroke="#5a5a5a" stroke-width="0.65" fill="none"/>
<rect x="230.90" y="540.30" width="1.9" height="1.8" fill="#000"/>
<text x="231.80" y="551.20" font-size="4.6" font-weight="normal" fill="#606060" text-anchor="middle" >0</text>
<text x="248.70" y="551.20" font-size="4.6" font-weight="normal" fill="#606060" text-anchor="middle" >10</text>
<text x="251.00" y="548.20" font-size="3.8" font-weight="normal" fill="#606060" text-anchor="start" >3</text>
<text x="273.40" y="551.20" font-size="4.6" font-weight="normal" fill="#606060" text-anchor="middle" >10</text>
<text x="275.70" y="548.20" font-size="3.8" font-weight="normal" fill="#606060" text-anchor="start" >4</text>
<text x="293.90" y="551.20" font-size="4.6" font-weight="normal" fill="#606060" text-anchor="middle" >10</text>
<text x="296.20" y="548.20" font-size="3.8" font-weight="normal" fill="#606060" text-anchor="start" >5</text>
<text x="260.25" y="562.10" font-size="5.3" font-weight="bold" fill="#111" text-anchor="middle" >CD38 - FITC</text>
<path d="M316.2,485.5 333.8,485.5 334.8,485.3M341.8,485.50H410.2" fill="none" stroke="#d0d0d0" stroke-width="0.8"/>
<path d="M334.8,485.3 335.2,484.8 335.8,483.0 336.2,478.7 337.2,461.6 337.8,454.9 338.2,454.9 338.8,461.6 339.8,478.7 340.2,483.0 340.8,484.8 341.2,485.3 341.8,485.5" fill="none" stroke="#b0b0b0" stroke-width="0.8" stroke-dasharray="1 1.1"/>
<path d="M316.2,503.2 330.2,503.2 331.2,503.2 332.2,503.0M344.2,503.2 346.8,503.2 410.2,503.2" fill="none" stroke="#747474" stroke-width="1.1" stroke-dasharray="7.4 7.4"/>
<path d="M332.2,503.0 332.8,502.8 333.2,502.2 333.8,501.2 334.2,499.4 334.8,496.6 335.2,492.7 336.8,476.5 337.2,472.1 337.8,469.6 338.2,469.6 338.8,472.1 339.2,476.5 340.2,487.7 341.2,496.6 341.8,499.4 342.2,501.2 342.8,502.2 343.2,502.8 343.8,503.0 344.2,503.2" fill="none" stroke="#2a2a2a" stroke-width="1.1" stroke-dasharray="3.2 2.2"/>
<path d="M316.2,521.0 328.8,521.0 330.8,520.8M345.8,520.9 348.2,521.0 410.2,521.0" fill="none" stroke="#b0b0b0" stroke-width="0.8"/>
<path d="M330.8,520.8 331.2,520.7 331.8,520.4 332.2,519.9 332.8,519.0 333.2,517.7 333.8,515.7 334.2,513.0 334.8,509.4 336.8,491.7 337.2,488.5 337.8,486.8 338.2,486.8 338.8,488.5 339.2,491.7 341.2,509.4 341.8,513.0 342.2,515.7 342.8,517.7 343.2,519.0 343.8,519.9 344.2,520.4 344.8,520.7 345.8,520.9" fill="none" stroke="#aaa" stroke-width="0.85"/>
<path d="M316.2,538.7 330.2,538.7 331.2,538.7 332.2,538.5M355.2,538.6 362.8,538.7 410.2,538.8" fill="none" stroke="#9a9a9a" stroke-width="0.9"/>
<path d="M332.2,538.5 332.8,538.2 333.2,537.7 333.8,536.7 334.2,535.0 334.8,532.3 335.2,528.6 336.8,513.2 337.2,508.9 337.8,506.4 338.2,506.2 338.8,507.7 339.2,510.6 340.8,522.8 341.8,529.8 342.2,532.3 342.8,534.1 343.2,535.4 343.8,536.2 344.2,536.7 345.2,537.2 351.2,538.2 355.2,538.6" fill="none" stroke="#2a2a2a" stroke-width="1"/>
<rect x="315.75" y="451.10" width="96.25" height="88.50" fill="none" stroke="#858585" stroke-width="1"/>
<path d="M412.00,451.10V539.60" stroke="#4a4a4a" stroke-width="1"/>
<path d="M314.15,485.50h1.6 M314.15,503.25h1.6 M314.15,521.00h1.6 M314.15,538.75h1.6" stroke="#999" stroke-width="0.6"/>
<path d="M316.75,540.90H411.00" stroke="#a0a0a0" stroke-width="0.7" stroke-dasharray="1 1.2"/>
<path d="M318.25,540.20v1.6 M320.75,540.20v1.6 M323.25,540.20v1.6 M325.75,540.20v1.6 M328.25,540.20v1.6 M330.75,540.20v1.6 M332.75,540.20v1.6 M337.75,540.20v1.6 M339.75,540.20v1.6 M342.25,540.20v1.6 M344.75,540.20v1.6 M347.25,540.20v1.6 M349.75,540.20v1.6 M351.75,540.20v1.6 M361.43,540.20v1.6 M385.27,540.20v1.6 M365.92,540.20v1.6 M388.79,540.20v1.6 M369.10,540.20v1.6 M391.29,540.20v1.6 M371.57,540.20v1.6 M393.23,540.20v1.6 M373.59,540.20v1.6 M394.81,540.20v1.6 M375.30,540.20v1.6 M396.15,540.20v1.6 M376.78,540.20v1.6 M397.31,540.20v1.6 M378.08,540.20v1.6 M398.33,540.20v1.6 M405.27,540.20v1.6 M408.79,540.20v1.6 M335.25,540.20v2.8 M353.75,540.20v2.8 M379.25,540.20v2.8 M399.25,540.20v2.8" stroke="#5a5a5a" stroke-width="0.65" fill="none"/>
<rect x="334.15" y="540.30" width="1.9" height="1.8" fill="#000"/>
<text x="335.05" y="551.20" font-size="4.6" font-weight="normal" fill="#606060" text-anchor="middle" >0</text>
<text x="351.95" y="551.20" font-size="4.6" font-weight="normal" fill="#606060" text-anchor="middle" >10</text>
<text x="354.25" y="548.20" font-size="3.8" font-weight="normal" fill="#606060" text-anchor="start" >3</text>
<text x="376.65" y="551.20" font-size="4.6" font-weight="normal" fill="#606060" text-anchor="middle" >10</text>
<text x="378.95" y="548.20" font-size="3.8" font-weight="normal" fill="#606060" text-anchor="start" >4</text>
<text x="397.15" y="551.20" font-size="4.6" font-weight="normal" fill="#606060" text-anchor="middle" >10</text>
<text x="399.45" y="548.20" font-size="3.8" font-weight="normal" fill="#606060" text-anchor="start" >5</text>
<text x="363.88" y="562.10" font-size="5.3" font-weight="bold" fill="#111" text-anchor="middle" >CD33 - FITC</text>
<path d="M412.2,174.0 H450.8" fill="none" stroke="#c4c4c4" stroke-width="1"/>
<text x="455.80" y="175.80" font-size="5.3" font-weight="normal" fill="#3a3a3a" text-anchor="start" >control</text>
<path d="M412.2,186.8 H450.8" fill="none" stroke="#8a8a8a" stroke-width="1.1" stroke-dasharray="4 3.6" stroke-dashoffset="3.2"/>
<text x="455.80" y="188.60" font-size="5.3" font-weight="normal" fill="#3a3a3a" text-anchor="start" >5th amplification</text>
<path d="M413.0,200.4 H450.8" fill="none" stroke="#1a1a1a" stroke-width="1.5" stroke-dasharray="8.3 6.5"/>
<text x="455.80" y="202.20" font-size="5.3" font-weight="normal" fill="#3a3a3a" text-anchor="start" >4th amplification</text>
<path d="M412.2,214.3 H450.8" fill="none" stroke="#1a1a1a" stroke-width="1.3" stroke-dasharray="4 3.6" stroke-dashoffset="3.2"/>
<text x="455.80" y="216.10" font-size="5.3" font-weight="normal" fill="#3a3a3a" text-anchor="start" >3rd amplification</text>
<path d="M412.2,228.3 H450.8" fill="none" stroke="#9a9a9a" stroke-width="1"/>
<text x="455.80" y="230.10" font-size="5.3" font-weight="normal" fill="#3a3a3a" text-anchor="start" >2nd amplification</text>
<path d="M412.2,238.8 H450.8" fill="none" stroke="#111" stroke-width="1.8"/>
<text x="455.80" y="240.60" font-size="5.3" font-weight="normal" fill="#3a3a3a" text-anchor="start" >Diagnostic</text>
<path d="M421.5,476.3 H446.3" fill="none" stroke="#c8c8c8" stroke-width="1"/>
<text x="453.20" y="478.10" font-size="5.3" font-weight="normal" fill="#3a3a3a" text-anchor="start" >control</text>
<path d="M424.2,486.6 H446.3" fill="none" stroke="#333" stroke-width="1.3" stroke-dasharray="7.1 6.7"/>
<text x="453.20" y="488.40" font-size="5.3" font-weight="normal" fill="#3a3a3a" text-anchor="start" >2nd amplification</text>
<path d="M421.5,496.1 H446.3" fill="none" stroke="#a8a8a8" stroke-width="1"/>
<text x="453.20" y="497.90" font-size="5.3" font-weight="normal" fill="#3a3a3a" text-anchor="start" >1st amplification</text>
<path d="M421.5,506.0 H446.3" fill="none" stroke="#2a2a2a" stroke-width="1.3"/>
<text x="453.20" y="507.80" font-size="5.3" font-weight="normal" fill="#3a3a3a" text-anchor="start" >diagnostic</text>
<text x="6.60" y="10.40" font-size="11.8" font-weight="bold" fill="#000" text-anchor="start" >A</text>
<text x="7.40" y="322.30" font-size="12.2" font-weight="bold" fill="#000" text-anchor="start" >B</text>
<text x="252.20" y="10.70" font-size="11.6" font-weight="bold" fill="#000" text-anchor="middle" >VHR-03</text>
<text x="254.90" y="322.40" font-size="11.6" font-weight="bold" fill="#000" text-anchor="middle" >SR-09</text>
</svg>
</body></html>
